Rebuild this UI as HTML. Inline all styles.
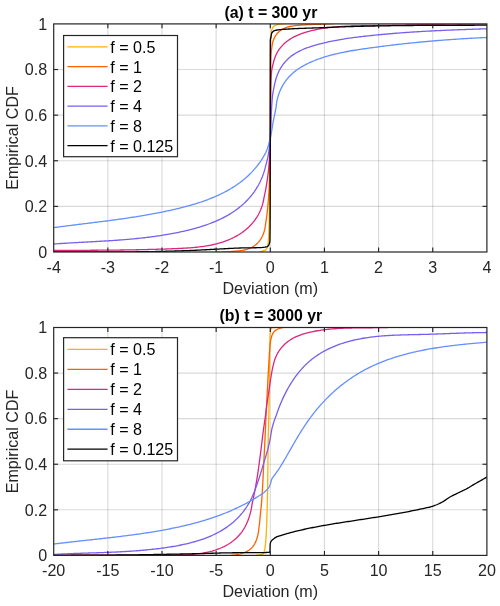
<!DOCTYPE html>
<html><head><meta charset="utf-8"><title>Empirical CDF</title>
<style>html,body{margin:0;padding:0;background:#fff}svg{display:block}</style></head>
<body>
<svg width="500" height="606" viewBox="0 0 500 606" font-family="'Liberation Sans', Arial, Helvetica, sans-serif">
<rect width="500" height="606" fill="#fff"/>
<line x1="107.85" y1="23.9" x2="107.85" y2="252.0" stroke="#262626" stroke-opacity="0.17" stroke-width="1.1"/>
<line x1="162.00" y1="23.9" x2="162.00" y2="252.0" stroke="#262626" stroke-opacity="0.17" stroke-width="1.1"/>
<line x1="216.15" y1="23.9" x2="216.15" y2="252.0" stroke="#262626" stroke-opacity="0.17" stroke-width="1.1"/>
<line x1="270.30" y1="23.9" x2="270.30" y2="252.0" stroke="#262626" stroke-opacity="0.17" stroke-width="1.1"/>
<line x1="324.45" y1="23.9" x2="324.45" y2="252.0" stroke="#262626" stroke-opacity="0.17" stroke-width="1.1"/>
<line x1="378.60" y1="23.9" x2="378.60" y2="252.0" stroke="#262626" stroke-opacity="0.17" stroke-width="1.1"/>
<line x1="432.75" y1="23.9" x2="432.75" y2="252.0" stroke="#262626" stroke-opacity="0.17" stroke-width="1.1"/>
<line x1="53.7" y1="206.38" x2="486.9" y2="206.38" stroke="#262626" stroke-opacity="0.17" stroke-width="1.1"/>
<line x1="53.7" y1="160.76" x2="486.9" y2="160.76" stroke="#262626" stroke-opacity="0.17" stroke-width="1.1"/>
<line x1="53.7" y1="115.14" x2="486.9" y2="115.14" stroke="#262626" stroke-opacity="0.17" stroke-width="1.1"/>
<line x1="53.7" y1="69.52" x2="486.9" y2="69.52" stroke="#262626" stroke-opacity="0.17" stroke-width="1.1"/>
<clipPath id="c0"><rect x="53.7" y="23.9" width="433.2" height="228.1"/></clipPath>
<g clip-path="url(#c0)" fill="none" stroke-width="1.3" stroke-linejoin="round">
<polyline points="53.60,253.20 55.15,253.20 56.69,253.20 58.24,253.20 59.78,253.20 61.33,253.20 62.87,253.20 64.41,253.20 65.95,253.20 67.49,253.20 69.03,253.20 70.56,253.20 72.10,253.20 73.64,253.20 75.17,253.20 76.70,253.20 78.23,253.20 79.77,253.20 81.30,253.20 82.82,253.20 84.35,253.20 85.88,253.20 87.40,253.20 88.93,253.20 90.45,253.20 91.98,253.20 93.50,253.20 95.02,253.20 96.54,253.20 98.06,253.20 99.58,253.20 101.10,253.20 102.61,253.20 104.13,253.20 105.64,253.20 107.16,253.20 108.67,253.20 110.18,253.20 111.69,253.20 113.20,253.20 114.71,253.20 116.22,253.20 117.73,253.20 119.24,253.20 120.74,253.20 122.25,253.20 123.75,253.20 125.25,253.20 126.76,253.20 128.26,253.20 129.76,253.20 131.26,253.20 132.76,253.20 134.26,253.20 135.76,253.20 137.25,253.20 138.75,253.20 140.24,253.20 141.74,253.20 143.23,253.20 144.73,253.20 146.22,253.20 147.71,253.20 149.20,253.20 150.69,253.20 152.18,253.20 153.67,253.20 155.16,253.20 156.65,253.20 158.13,253.20 159.62,253.20 161.10,253.20 162.59,253.20 164.07,253.20 165.56,253.20 167.04,253.20 168.52,253.20 170.00,253.20 171.48,253.20 172.96,253.20 174.44,253.20 175.92,253.20 177.40,253.20 178.88,253.20 180.35,253.20 181.83,253.20 183.31,253.20 184.78,253.20 186.26,253.20 187.73,253.20 189.20,253.20 190.68,253.20 192.15,253.20 193.62,253.20 195.09,253.20 196.56,253.20 198.03,253.20 199.50,253.20 200.97,253.20 202.44,253.20 203.91,253.20 205.37,253.20 206.84,253.20 208.31,253.20 209.77,253.20 211.24,253.20 212.70,253.20 214.17,253.20 215.63,253.20 217.10,253.20 218.56,253.20 220.02,253.20 221.48,253.20 222.94,253.20 224.41,253.20 225.87,253.20 227.33,253.20 228.79,253.20 230.25,253.20 231.71,253.20 233.16,253.20 234.62,253.20 236.08,253.20 237.54,253.20 239.00,253.20 240.45,253.20 241.91,253.20 243.36,253.20 244.82,253.20 246.28,253.20 247.73,253.20 249.18,253.20 250.64,253.20 252.09,253.20 253.55,253.20 255.00,253.20 256.33,253.07 257.66,252.73 258.98,252.27 260.29,251.77 261.60,251.30 263.11,250.87 264.60,250.42 265.80,249.80 266.46,249.06 267.01,248.05 267.40,247.00 267.75,245.58 268.02,244.09 268.20,242.60 268.33,241.24 268.43,239.87 268.52,238.50 268.60,237.12 268.67,235.75 268.74,234.37 268.80,233.00 268.86,231.67 268.91,230.33 268.96,229.00 269.01,227.67 269.05,226.33 269.09,225.00 269.13,223.67 269.17,222.33 269.20,221.00 269.23,219.59 269.26,218.18 269.29,216.77 269.32,215.35 269.35,213.94 269.37,212.53 269.39,211.12 269.42,209.71 269.44,208.29 269.46,206.88 269.48,205.47 269.50,204.06 269.52,202.65 269.54,201.24 269.56,199.82 269.58,198.41 269.60,197.00 269.62,195.54 269.64,194.08 269.66,192.62 269.68,191.15 269.70,189.69 269.72,188.23 269.73,186.77 269.75,185.31 269.77,183.85 269.79,182.39 269.81,180.92 269.83,179.46 269.84,178.00 269.86,176.54 269.88,175.08 269.90,173.62 269.91,172.15 269.93,170.69 269.95,169.23 269.96,167.77 269.98,166.31 269.99,164.85 270.01,163.39 270.02,161.92 270.04,160.46 270.05,159.00 270.07,157.54 270.08,156.08 270.09,154.62 270.11,153.15 270.12,151.69 270.13,150.23 270.14,148.77 270.15,147.31 270.16,145.85 270.17,144.38 270.18,142.92 270.19,141.46 270.20,140.00 270.21,138.52 270.22,137.04 270.22,135.56 270.23,134.07 270.24,132.59 270.24,131.11 270.25,129.63 270.26,128.15 270.26,126.67 270.27,125.18 270.27,123.70 270.28,122.22 270.28,120.74 270.28,119.26 270.29,117.78 270.29,116.30 270.30,114.81 270.30,113.33 270.30,111.85 270.31,110.37 270.31,108.89 270.31,107.41 270.32,105.92 270.32,104.44 270.32,102.96 270.33,101.48 270.33,100.00 270.33,98.52 270.34,97.03 270.34,95.55 270.34,94.07 270.35,92.59 270.35,91.11 270.36,89.63 270.36,88.15 270.37,86.66 270.37,85.18 270.38,83.70 270.38,82.22 270.39,80.74 270.39,79.26 270.40,77.78 270.40,76.29 270.41,74.81 270.42,73.33 270.43,71.85 270.43,70.37 270.44,68.89 270.45,67.41 270.46,65.92 270.47,64.44 270.48,62.96 270.49,61.48 270.50,60.00 270.51,58.57 270.53,57.13 270.54,55.70 270.56,54.26 270.58,52.82 270.60,51.38 270.63,49.94 270.66,48.50 270.69,47.07 270.73,45.63 270.77,44.19 270.82,42.76 270.87,41.33 270.93,39.90 270.99,38.47 271.06,37.05 271.13,35.63 271.21,34.21 271.30,32.80 271.43,31.56 271.67,30.31 272.00,29.11 272.40,28.00 273.08,26.96 274.00,26.10 275.14,25.47 276.40,25.00 277.58,24.63 278.79,24.31 280.00,24.10 281.41,23.94 282.82,23.78 284.24,23.63 285.66,23.50 287.09,23.37 288.52,23.26 289.95,23.15 291.39,23.06 292.83,22.99 294.26,22.92 295.70,22.87 297.14,22.83 298.57,22.81 300.00,22.80 301.49,22.80 302.99,22.80 304.48,22.80 305.98,22.80 307.47,22.80 308.96,22.80 310.46,22.80 311.95,22.80 313.45,22.80 314.94,22.80 316.44,22.80 317.93,22.80 319.42,22.80 320.92,22.80 322.41,22.80 323.91,22.80 325.40,22.80 326.90,22.80 328.39,22.80 329.88,22.80 331.38,22.80 332.87,22.80 334.37,22.80 335.86,22.80 337.36,22.80 338.85,22.80 340.35,22.80 341.84,22.80 343.34,22.80 344.83,22.80 346.32,22.80 347.82,22.80 349.31,22.80 350.81,22.80 352.30,22.80 353.80,22.80 355.29,22.80 356.79,22.80 358.28,22.80 359.78,22.80 361.27,22.80 362.77,22.80 364.26,22.80 365.76,22.80 367.25,22.80 368.75,22.80 370.24,22.80 371.74,22.80 373.23,22.80 374.73,22.80 376.23,22.80 377.72,22.80 379.22,22.80 380.71,22.80 382.21,22.80 383.70,22.80 385.20,22.80 386.69,22.80 388.19,22.80 389.68,22.80 391.18,22.80 392.68,22.80 394.17,22.80 395.67,22.80 397.16,22.80 398.66,22.80 400.16,22.80 401.65,22.80 403.15,22.80 404.64,22.80 406.14,22.80 407.64,22.80 409.13,22.80 410.63,22.80 412.12,22.80 413.62,22.80 415.12,22.80 416.61,22.80 418.11,22.80 419.61,22.80 421.10,22.80 422.60,22.80 424.10,22.80 425.59,22.80 427.09,22.80 428.59,22.80 430.08,22.80 431.58,22.80 433.08,22.80 434.57,22.80 436.07,22.80 437.57,22.80 439.07,22.80 440.56,22.80 442.06,22.80 443.56,22.80 445.05,22.80 446.55,22.80 448.05,22.80 449.55,22.80 451.04,22.80 452.54,22.80 454.04,22.80 455.54,22.80 457.03,22.80 458.53,22.80 460.03,22.80 461.53,22.80 463.03,22.80 464.52,22.80 466.02,22.80 467.52,22.80 469.02,22.80 470.52,22.80 472.01,22.80 473.51,22.80 475.01,22.80 476.51,22.80 478.01,22.80 479.51,22.80 481.01,22.80 482.50,22.80 484.00,22.80 485.50,22.80 487.00,22.80" stroke="#FFB000"/>
<polyline points="53.60,253.20 55.10,253.20 56.59,253.20 58.09,253.20 59.59,253.20 61.08,253.20 62.58,253.20 64.08,253.20 65.57,253.20 67.07,253.20 68.57,253.20 70.06,253.20 71.56,253.20 73.05,253.20 74.55,253.20 76.05,253.20 77.54,253.20 79.04,253.20 80.53,253.20 82.03,253.20 83.52,253.20 85.02,253.20 86.51,253.20 88.01,253.20 89.50,253.20 91.00,253.20 92.49,253.20 93.99,253.20 95.48,253.20 96.98,253.20 98.47,253.20 99.97,253.20 101.46,253.20 102.96,253.20 104.45,253.20 105.95,253.20 107.44,253.20 108.94,253.20 110.43,253.20 111.92,253.20 113.42,253.20 114.91,253.20 116.41,253.20 117.90,253.20 119.40,253.20 120.89,253.20 122.38,253.20 123.88,253.20 125.37,253.20 126.86,253.20 128.36,253.20 129.85,253.20 131.34,253.20 132.84,253.20 134.33,253.20 135.83,253.20 137.32,253.20 138.81,253.20 140.30,253.20 141.80,253.20 143.29,253.20 144.78,253.20 146.28,253.20 147.77,253.20 149.26,253.20 150.75,253.20 152.28,253.22 153.81,253.24 155.33,253.26 156.84,253.28 158.35,253.29 159.85,253.30 161.36,253.31 162.85,253.32 164.35,253.33 165.84,253.33 167.33,253.34 168.82,253.34 170.30,253.33 171.78,253.33 173.26,253.33 174.74,253.32 176.21,253.31 177.68,253.30 179.16,253.28 180.63,253.27 182.10,253.25 183.57,253.23 185.04,253.21 186.51,253.18 187.98,253.16 189.45,253.13 190.93,253.10 192.40,253.07 193.87,253.04 195.35,253.00 196.83,252.96 198.30,252.92 199.78,252.88 201.22,252.84 202.66,252.79 204.10,252.75 205.55,252.70 207.00,252.65 208.45,252.60 209.91,252.54 211.37,252.49 212.83,252.43 214.30,252.37 215.78,252.31 217.26,252.24 218.74,252.18 220.23,252.11 221.72,252.04 223.21,251.97 224.71,251.89 226.21,251.81 227.66,251.73 229.11,251.64 230.55,251.54 231.99,251.44 233.42,251.33 234.84,251.21 236.26,251.08 237.66,250.94 239.05,250.78 240.42,250.61 241.66,250.44 242.90,250.24 244.12,250.01 245.32,249.75 246.49,249.45 247.64,249.12 248.80,248.72 249.98,248.26 251.14,247.74 252.27,247.15 253.35,246.51 254.36,245.83 255.38,245.08 256.40,244.22 257.40,243.29 258.32,242.33 259.15,241.35 259.91,240.37 260.63,239.33 261.32,238.21 261.96,237.05 262.55,235.84 263.07,234.61 263.54,233.37 263.99,232.03 264.38,230.66 264.72,229.26 265.03,227.84 265.29,226.40 265.50,224.94 265.69,223.48 265.83,222.07 266.05,220.75 266.26,219.42 266.46,218.09 266.64,216.75 266.82,215.41 266.99,214.08 267.15,212.74 267.30,211.40 267.44,210.07 267.58,208.74 267.72,207.41 267.84,206.07 267.96,204.74 268.08,203.40 268.19,202.07 268.30,200.73 268.40,199.40 268.51,197.96 268.61,196.52 268.72,195.08 268.82,193.64 268.91,192.20 269.00,190.76 269.09,189.32 269.17,187.88 269.24,186.44 269.30,185.00 269.36,183.53 269.41,182.06 269.46,180.59 269.51,179.12 269.56,177.65 269.60,176.18 269.64,174.71 269.68,173.24 269.72,171.77 269.76,170.30 269.79,168.83 269.83,167.35 269.86,165.88 269.90,164.41 269.93,162.94 269.97,161.47 270.00,160.00 270.03,158.57 270.07,157.14 270.10,155.71 270.14,154.29 270.17,152.86 270.21,151.43 270.24,150.00 270.27,148.57 270.30,147.14 270.33,145.71 270.35,144.29 270.37,142.86 270.39,141.43 270.40,140.00 270.41,138.54 270.42,137.07 270.43,135.61 270.43,134.15 270.44,132.68 270.45,131.22 270.45,129.76 270.46,128.29 270.46,126.83 270.47,125.37 270.47,123.90 270.48,122.44 270.48,120.98 270.48,119.51 270.49,118.05 270.49,116.59 270.49,115.12 270.50,113.66 270.50,112.20 270.50,110.73 270.50,109.27 270.51,107.81 270.51,106.34 270.51,104.88 270.52,103.41 270.52,101.95 270.52,100.49 270.52,99.02 270.53,97.56 270.53,96.10 270.54,94.63 270.54,93.17 270.55,91.71 270.55,90.24 270.56,88.78 270.56,87.32 270.57,85.85 270.58,84.39 270.58,82.93 270.59,81.46 270.60,80.00 270.61,78.59 270.62,77.18 270.63,75.76 270.64,74.35 270.66,72.94 270.67,71.52 270.69,70.11 270.71,68.70 270.73,67.29 270.76,65.87 270.78,64.46 270.81,63.05 270.84,61.64 270.88,60.23 270.92,58.82 270.96,57.41 271.00,56.00 271.06,54.71 271.14,53.42 271.25,52.13 271.39,50.84 271.54,49.55 271.72,48.27 271.90,47.00 272.07,45.54 272.32,44.09 272.64,42.66 273.03,41.28 273.45,40.07 273.92,38.89 274.45,37.74 275.16,36.42 275.96,35.15 276.82,33.98 277.70,32.94 278.42,32.18 279.22,31.44 280.04,30.76 281.05,30.02 282.14,29.34 283.25,28.74 284.30,28.25 285.39,27.81 286.51,27.41 287.67,27.06 288.83,26.75 289.99,26.48 291.17,26.24 292.36,26.03 293.57,25.85 294.78,25.68 296.17,25.52 297.55,25.37 298.94,25.24 300.33,25.13 301.72,25.02 303.12,24.92 304.51,24.84 305.92,24.76 307.34,24.69 308.75,24.63 310.17,24.57 311.58,24.52 313.00,24.47 314.44,24.42 315.87,24.38 317.31,24.33 318.75,24.29 320.18,24.25 321.61,24.20 323.04,24.15 324.47,24.09 325.95,24.03 327.42,23.96 328.89,23.88 330.36,23.79 331.83,23.69 333.29,23.58 334.75,23.46 336.21,23.32 337.66,23.16 339.11,22.99 340.58,22.92 342.06,22.85 343.53,22.81 345.00,22.80 346.49,22.80 347.99,22.80 349.48,22.80 350.97,22.80 352.46,22.80 353.96,22.80 355.45,22.80 356.94,22.80 358.44,22.80 359.93,22.80 361.42,22.80 362.92,22.80 364.41,22.80 365.90,22.80 367.40,22.80 368.89,22.80 370.38,22.80 371.88,22.80 373.37,22.80 374.86,22.80 376.36,22.80 377.85,22.80 379.34,22.80 380.84,22.80 382.33,22.80 383.82,22.80 385.32,22.80 386.81,22.80 388.31,22.80 389.80,22.80 391.29,22.80 392.79,22.80 394.28,22.80 395.77,22.80 397.27,22.80 398.76,22.80 400.26,22.80 401.75,22.80 403.25,22.80 404.74,22.80 406.23,22.80 407.73,22.80 409.22,22.80 410.72,22.80 412.21,22.80 413.71,22.80 415.20,22.80 416.69,22.80 418.19,22.80 419.68,22.80 421.18,22.80 422.67,22.80 424.17,22.80 425.66,22.80 427.16,22.80 428.65,22.80 430.15,22.80 431.64,22.80 433.14,22.80 434.63,22.80 436.13,22.80 437.62,22.80 439.12,22.80 440.61,22.80 442.11,22.80 443.60,22.80 445.10,22.80 446.60,22.80 448.09,22.80 449.59,22.80 451.08,22.80 452.58,22.80 454.07,22.80 455.57,22.80 457.07,22.80 458.56,22.80 460.06,22.80 461.56,22.80 463.05,22.80 464.55,22.80 466.04,22.80 467.54,22.80 469.04,22.80 470.53,22.80 472.03,22.80 473.53,22.80 475.02,22.80 476.52,22.80 478.02,22.80 479.51,22.80 481.01,22.80 482.51,22.80 484.01,22.80 485.50,22.80 487.00,22.80" stroke="#FE6100"/>
<polyline points="53.60,250.50 55.10,250.49 56.62,250.48 58.14,250.47 59.66,250.46 61.18,250.45 62.69,250.44 64.20,250.43 65.72,250.42 67.22,250.41 68.73,250.40 70.24,250.39 71.74,250.38 73.25,250.37 74.75,250.37 76.25,250.36 77.75,250.35 79.24,250.34 80.74,250.33 82.24,250.32 83.73,250.31 85.22,250.31 86.71,250.30 88.20,250.29 89.69,250.28 91.18,250.27 92.67,250.26 94.16,250.25 95.64,250.24 97.13,250.23 98.61,250.22 100.10,250.21 101.56,250.20 103.01,250.19 104.47,250.18 105.93,250.16 107.38,250.15 108.84,250.14 110.30,250.13 111.75,250.11 113.21,250.10 114.66,250.08 116.12,250.07 117.58,250.05 119.03,250.03 120.49,250.01 121.94,250.00 123.40,249.98 124.86,249.96 126.32,249.94 127.77,249.91 129.23,249.89 130.69,249.87 132.15,249.84 133.61,249.82 135.07,249.79 136.53,249.76 137.99,249.74 139.45,249.71 140.92,249.68 142.38,249.65 143.84,249.61 145.31,249.58 146.78,249.55 148.24,249.51 149.71,249.47 151.20,249.43 152.68,249.39 154.17,249.35 155.66,249.31 157.15,249.27 158.64,249.22 160.13,249.18 161.62,249.13 163.12,249.08 164.62,249.03 166.12,248.98 167.62,248.92 169.13,248.87 170.63,248.81 172.14,248.75 173.65,248.69 175.16,248.63 176.68,248.56 178.19,248.50 179.71,248.42 181.22,248.35 182.74,248.27 184.25,248.18 185.77,248.09 187.28,248.00 188.79,247.89 190.30,247.78 191.81,247.66 193.32,247.53 194.82,247.39 196.32,247.24 197.82,247.08 199.32,246.91 200.81,246.72 202.30,246.53 203.79,246.32 205.27,246.09 206.74,245.86 208.21,245.60 209.66,245.33 211.11,245.05 212.56,244.75 213.99,244.43 215.41,244.09 216.73,243.76 218.04,243.42 219.35,243.05 220.66,242.67 221.95,242.27 223.22,241.85 224.55,241.40 225.87,240.92 227.18,240.42 228.49,239.90 229.78,239.35 231.06,238.78 232.37,238.16 233.68,237.52 234.97,236.85 236.25,236.15 237.51,235.43 238.74,234.69 239.89,233.96 241.04,233.20 242.17,232.42 243.28,231.61 244.38,230.78 245.45,229.92 246.49,229.05 247.52,228.15 248.54,227.21 249.54,226.24 250.51,225.25 251.45,224.24 252.26,223.34 253.04,222.41 253.81,221.46 254.55,220.50 255.36,219.38 256.15,218.23 256.91,217.06 257.63,215.88 258.30,214.70 258.95,213.49 259.57,212.25 260.16,210.98 260.71,209.68 261.23,208.36 261.72,207.03 262.14,205.75 262.53,204.45 262.89,203.12 263.22,201.77 263.51,200.40 263.77,199.01 264.00,197.59 264.30,196.27 264.60,194.93 264.89,193.59 265.16,192.24 265.43,190.90 265.69,189.55 265.94,188.20 266.17,186.85 266.40,185.50 266.63,184.06 266.86,182.61 267.08,181.16 267.30,179.71 267.51,178.26 267.71,176.81 267.90,175.36 268.07,173.91 268.24,172.45 268.40,171.00 268.55,169.57 268.69,168.13 268.82,166.70 268.95,165.26 269.08,163.83 269.20,162.39 269.31,160.95 269.42,159.51 269.52,158.08 269.61,156.64 269.70,155.20 269.78,153.82 269.87,152.44 269.95,151.06 270.03,149.68 270.11,148.29 270.18,146.91 270.24,145.53 270.30,144.15 270.34,142.76 270.38,141.38 270.40,140.00 270.41,138.52 270.43,137.04 270.44,135.56 270.45,134.08 270.46,132.60 270.47,131.11 270.47,129.63 270.48,128.15 270.49,126.67 270.49,125.19 270.50,123.71 270.50,122.23 270.51,120.74 270.51,119.26 270.51,117.78 270.52,116.30 270.52,114.82 270.53,113.33 270.53,111.85 270.54,110.37 270.54,108.89 270.55,107.41 270.56,105.93 270.57,104.44 270.58,102.96 270.59,101.48 270.60,100.00 270.61,98.55 270.63,97.09 270.65,95.64 270.67,94.18 270.70,92.73 270.72,91.27 270.75,89.82 270.79,88.36 270.82,86.91 270.86,85.45 270.90,84.00 270.94,82.58 270.99,81.15 271.05,79.72 271.12,78.30 271.19,76.87 271.27,75.45 271.37,74.03 271.48,72.61 271.60,71.20 271.76,69.89 271.98,68.58 272.25,67.28 272.56,65.98 272.88,64.69 273.20,63.40 273.54,62.08 273.90,60.77 274.28,59.46 274.75,58.07 275.25,56.72 275.79,55.43 276.33,54.26 276.90,53.13 277.51,52.03 278.15,50.96 278.82,49.93 279.52,48.94 280.32,47.88 281.17,46.84 282.05,45.84 282.95,44.90 283.77,44.09 284.63,43.30 285.53,42.52 286.45,41.77 287.38,41.05 288.27,40.40 289.19,39.76 290.13,39.15 291.08,38.56 292.06,37.99 293.06,37.43 294.07,36.89 295.09,36.37 296.21,35.84 297.35,35.33 298.50,34.83 299.67,34.35 300.84,33.90 302.00,33.48 303.16,33.07 304.33,32.68 305.52,32.31 306.70,31.95 307.89,31.61 309.08,31.29 310.28,30.97 311.48,30.67 312.68,30.39 314.12,30.06 315.57,29.75 317.02,29.45 318.48,29.17 319.87,28.91 321.27,28.67 322.67,28.45 324.07,28.23 325.48,28.03 326.89,27.84 328.30,27.66 329.71,27.49 331.16,27.32 332.62,27.17 334.08,27.03 335.54,26.90 337.00,26.78 338.47,26.67 339.93,26.56 341.40,26.47 342.85,26.38 344.31,26.30 345.77,26.23 347.23,26.16 348.68,26.10 350.14,26.05 351.60,26.00 353.06,25.95 354.52,25.91 355.98,25.88 357.38,25.84 358.78,25.81 360.18,25.79 361.58,25.76 362.98,25.74 364.38,25.72 365.78,25.70 367.18,25.68 368.57,25.66 369.97,25.64 371.37,25.62 372.76,25.60 374.15,25.58 375.61,25.56 377.06,25.53 378.51,25.51 379.96,25.49 381.40,25.46 382.85,25.44 384.30,25.41 385.74,25.38 387.19,25.36 388.63,25.33 390.08,25.31 391.52,25.28 392.96,25.25 394.40,25.22 395.84,25.20 397.28,25.17 398.72,25.14 400.16,25.11 401.59,25.08 403.01,25.05 404.43,25.03 405.85,25.00 407.27,24.97 408.69,24.94 410.11,24.91 411.53,24.88 412.95,24.85 414.37,24.82 415.79,24.80 417.21,24.77 418.63,24.74 420.05,24.71 421.47,24.68 422.89,24.65 424.31,24.62 425.73,24.60 427.15,24.57 428.57,24.54 429.99,24.51 431.44,24.48 432.89,24.46 434.34,24.43 435.80,24.40 437.25,24.38 438.70,24.35 440.15,24.32 441.61,24.30 443.06,24.27 444.52,24.25 445.97,24.22 447.43,24.20 448.88,24.18 450.34,24.15 451.80,24.13 453.25,24.11 454.71,24.09 456.17,24.07 457.63,24.05 459.09,24.03 460.55,24.01 462.01,23.99 463.47,23.97 464.94,23.95 466.40,23.94 467.87,23.92 469.33,23.91 470.80,23.89 472.27,23.88 473.73,23.87 475.20,23.86 476.67,23.85 478.15,23.84 479.62,23.83 481.09,23.82 482.57,23.82 484.04,23.81 485.52,23.80 487.00,23.80" stroke="#DC267F"/>
<polyline points="53.60,244.00 55.07,243.93 56.55,243.82 58.03,243.72 59.51,243.62 60.99,243.52 62.47,243.43 63.95,243.33 65.42,243.24 66.90,243.15 68.37,243.06 69.85,242.97 71.32,242.89 72.79,242.80 74.26,242.72 75.73,242.63 77.20,242.55 78.67,242.47 80.13,242.39 81.59,242.31 83.06,242.23 84.52,242.15 85.98,242.07 87.44,241.99 88.90,241.91 90.36,241.83 91.82,241.75 93.27,241.67 94.73,241.59 96.18,241.51 97.64,241.43 99.09,241.34 100.55,241.26 102.00,241.17 103.46,241.09 104.91,241.00 106.36,240.91 107.81,240.82 109.28,240.73 110.75,240.63 112.23,240.54 113.70,240.44 115.17,240.34 116.64,240.23 118.11,240.13 119.58,240.02 121.06,239.91 122.53,239.80 124.00,239.68 125.47,239.56 126.94,239.44 128.41,239.31 129.88,239.18 131.30,239.06 132.72,238.93 134.14,238.79 135.55,238.66 136.97,238.51 138.39,238.37 139.81,238.22 141.23,238.07 142.65,237.91 144.07,237.75 145.49,237.59 146.91,237.42 148.33,237.25 149.75,237.07 151.08,236.90 152.41,236.72 153.74,236.54 155.08,236.36 156.41,236.17 157.75,235.98 159.08,235.78 160.41,235.58 161.75,235.37 163.17,235.15 164.58,234.92 166.01,234.68 167.43,234.44 168.85,234.19 170.28,233.94 171.70,233.67 173.13,233.41 174.56,233.13 175.99,232.86 177.41,232.57 178.84,232.28 180.27,231.98 181.70,231.67 183.12,231.36 184.55,231.03 185.97,230.71 187.39,230.37 188.80,230.02 190.21,229.67 191.66,229.30 193.10,228.92 194.54,228.53 195.98,228.13 197.42,227.71 198.85,227.29 200.28,226.86 201.71,226.41 203.13,225.95 204.54,225.49 205.95,225.01 207.35,224.51 208.74,224.01 210.13,223.49 211.51,222.96 212.87,222.42 214.23,221.87 215.58,221.30 216.91,220.72 218.15,220.17 219.39,219.60 220.61,219.01 221.84,218.42 223.05,217.81 224.25,217.18 225.45,216.55 226.63,215.90 227.79,215.24 228.94,214.57 230.08,213.88 231.19,213.19 232.31,212.48 233.41,211.75 234.51,211.01 235.59,210.25 236.66,209.47 237.72,208.68 238.76,207.88 239.78,207.06 240.80,206.23 241.80,205.37 242.80,204.50 243.78,203.61 244.74,202.71 245.69,201.79 246.70,200.77 247.70,199.74 248.67,198.68 249.63,197.60 250.56,196.51 251.47,195.40 252.34,194.30 253.20,193.16 254.04,192.01 254.86,190.83 255.66,189.64 256.44,188.42 257.18,187.20 257.90,185.97 258.59,184.74 259.25,183.49 259.90,182.21 260.52,180.91 261.13,179.58 261.70,178.25 262.26,176.89 262.77,175.56 263.26,174.21 263.72,172.84 264.17,171.45 264.59,170.04 264.98,168.61 265.36,167.16 265.70,165.69 266.06,164.39 266.42,163.09 266.78,161.78 267.12,160.46 267.44,159.15 267.74,157.82 268.00,156.50 268.24,155.19 268.46,153.87 268.68,152.56 268.88,151.23 269.08,149.91 269.26,148.58 269.42,147.26 269.57,145.93 269.70,144.60 269.83,143.14 269.95,141.67 270.06,140.21 270.17,138.74 270.27,137.27 270.36,135.81 270.44,134.34 270.52,132.87 270.60,131.40 270.67,129.95 270.74,128.50 270.79,127.05 270.85,125.60 270.90,124.15 270.95,122.70 271.01,121.25 271.06,119.80 271.11,118.35 271.17,116.90 271.23,115.45 271.30,114.00 271.37,112.57 271.44,111.13 271.51,109.69 271.59,108.26 271.67,106.82 271.75,105.38 271.84,103.95 271.93,102.52 272.04,101.08 272.15,99.65 272.27,98.23 272.40,96.80 272.55,95.42 272.74,94.05 272.96,92.67 273.20,91.30 273.46,89.93 273.73,88.56 274.00,87.20 274.29,85.82 274.59,84.43 274.91,83.05 275.25,81.68 275.60,80.21 276.00,78.77 276.43,77.36 276.92,75.95 277.46,74.55 278.03,73.17 278.65,71.83 279.30,70.52 279.99,69.24 280.62,68.15 281.29,67.07 281.99,66.01 282.71,64.97 283.46,63.97 284.22,63.00 285.10,61.95 286.01,60.93 286.96,59.93 287.94,58.97 288.93,58.06 289.91,57.21 290.92,56.39 291.96,55.60 293.02,54.85 294.09,54.13 295.18,53.44 296.23,52.81 297.31,52.20 298.42,51.61 299.53,51.05 300.66,50.50 301.80,49.98 302.94,49.49 304.19,48.97 305.46,48.47 306.76,47.98 308.06,47.51 309.36,47.06 310.66,46.63 311.92,46.23 313.19,45.84 314.46,45.45 315.75,45.08 317.04,44.71 318.33,44.35 319.73,43.98 321.13,43.61 322.54,43.26 323.95,42.91 325.30,42.59 326.65,42.28 328.01,41.97 329.37,41.68 330.74,41.39 332.11,41.11 333.48,40.83 334.86,40.57 336.24,40.31 337.61,40.05 339.01,39.80 340.41,39.56 341.82,39.33 343.23,39.09 344.64,38.87 346.05,38.65 347.46,38.44 348.88,38.23 350.29,38.03 351.71,37.83 353.13,37.64 354.54,37.45 355.96,37.27 357.38,37.09 358.81,36.91 360.23,36.74 361.66,36.57 363.09,36.41 364.51,36.25 365.94,36.09 367.36,35.93 368.79,35.78 370.21,35.63 371.64,35.48 373.06,35.33 374.48,35.19 375.90,35.05 377.31,34.91 378.73,34.77 380.16,34.63 381.59,34.50 383.02,34.37 384.45,34.24 385.88,34.11 387.30,33.98 388.73,33.86 390.15,33.73 391.58,33.61 393.00,33.50 394.42,33.38 395.84,33.27 397.28,33.15 398.71,33.04 400.14,32.93 401.57,32.82 403.00,32.72 404.43,32.61 405.86,32.51 407.29,32.41 408.72,32.31 410.15,32.21 411.64,32.12 413.12,32.02 414.60,31.92 416.08,31.83 417.56,31.74 419.04,31.65 420.52,31.56 422.00,31.47 423.48,31.38 424.96,31.30 426.45,31.22 427.93,31.14 429.41,31.06 430.89,30.98 432.37,30.90 433.81,30.83 435.25,30.76 436.69,30.68 438.13,30.61 439.57,30.55 441.01,30.48 442.46,30.41 443.90,30.35 445.34,30.28 446.79,30.22 448.23,30.16 449.68,30.10 451.13,30.04 452.57,29.98 454.02,29.92 455.47,29.86 456.92,29.81 458.37,29.75 459.82,29.70 461.24,29.64 462.66,29.59 464.08,29.54 465.51,29.49 466.93,29.44 468.36,29.39 469.78,29.34 471.21,29.30 472.64,29.25 474.07,29.20 475.50,29.15 476.93,29.11 478.37,29.06 479.80,29.02 481.24,28.97 482.68,28.93 484.12,28.89 485.56,28.84 487.00,28.80" stroke="#785EF0"/>
<polyline points="53.60,227.60 55.07,227.45 56.54,227.25 58.01,227.05 59.48,226.86 60.95,226.67 62.42,226.48 63.88,226.29 65.35,226.10 66.82,225.91 68.28,225.72 69.75,225.54 71.22,225.35 72.68,225.17 74.15,224.99 75.61,224.80 77.07,224.62 78.54,224.44 80.00,224.26 81.46,224.08 82.92,223.90 84.38,223.72 85.84,223.54 87.30,223.36 88.76,223.18 90.22,223.00 91.68,222.82 93.14,222.64 94.60,222.45 96.06,222.27 97.52,222.09 98.98,221.91 100.43,221.72 101.89,221.54 103.35,221.35 104.80,221.16 106.26,220.98 107.72,220.79 109.19,220.59 110.67,220.40 112.15,220.20 113.63,220.00 115.10,219.80 116.58,219.60 118.06,219.40 119.53,219.19 121.01,218.99 122.49,218.78 123.96,218.57 125.44,218.35 126.92,218.14 128.39,217.92 129.87,217.70 131.29,217.48 132.72,217.26 134.15,217.04 135.57,216.81 137.00,216.59 138.43,216.36 139.85,216.13 141.28,215.89 142.71,215.65 144.13,215.41 145.56,215.16 146.98,214.91 148.41,214.66 149.83,214.41 151.18,214.16 152.52,213.92 153.87,213.67 155.21,213.41 156.56,213.15 157.90,212.89 159.25,212.63 160.60,212.36 161.94,212.09 163.37,211.80 164.79,211.50 166.21,211.20 167.63,210.89 169.06,210.58 170.48,210.27 171.91,209.95 173.33,209.63 174.76,209.30 176.18,208.97 177.60,208.63 179.03,208.28 180.45,207.93 181.87,207.58 183.29,207.21 184.70,206.85 186.11,206.47 187.52,206.09 188.93,205.70 190.33,205.31 191.76,204.89 193.19,204.48 194.61,204.05 196.03,203.61 197.45,203.17 198.86,202.71 200.28,202.25 201.68,201.78 203.08,201.29 204.48,200.80 205.87,200.30 207.26,199.79 208.63,199.26 210.01,198.73 211.37,198.19 212.73,197.63 214.08,197.07 215.42,196.49 216.75,195.91 218.10,195.30 219.44,194.67 220.78,194.03 222.12,193.38 223.44,192.71 224.75,192.04 226.05,191.34 227.34,190.64 228.62,189.92 229.87,189.20 230.99,188.53 232.10,187.86 233.21,187.17 234.31,186.46 235.41,185.74 236.49,185.01 237.57,184.26 238.63,183.50 239.69,182.74 240.76,181.93 241.83,181.11 242.88,180.27 243.93,179.42 244.95,178.55 245.96,177.68 246.95,176.80 247.93,175.90 248.90,174.99 249.86,174.05 250.81,173.10 251.75,172.14 252.66,171.16 253.56,170.18 254.45,169.18 255.32,168.16 256.18,167.12 257.03,166.06 257.86,164.99 258.68,163.91 259.48,162.81 260.33,161.60 261.17,160.36 261.99,159.09 262.80,157.81 263.58,156.50 264.35,155.18 265.09,153.85 265.81,152.50 266.34,151.23 266.85,149.94 267.33,148.63 267.78,147.31 268.21,145.97 268.62,144.64 269.00,143.30 269.38,141.90 269.74,140.49 270.08,139.07 270.41,137.65 270.71,136.23 271.00,134.80 271.26,133.41 271.51,132.01 271.74,130.61 271.96,129.21 272.18,127.80 272.40,126.40 272.62,125.00 272.85,123.60 273.10,122.20 273.35,120.87 273.62,119.54 273.89,118.21 274.17,116.88 274.45,115.56 274.73,114.23 275.00,112.90 275.28,111.46 275.56,110.02 275.83,108.58 276.11,107.14 276.22,105.67 276.39,104.20 276.60,102.73 276.86,101.27 277.16,99.81 277.51,98.35 277.90,96.90 278.34,95.46 278.81,94.03 279.33,92.62 279.88,91.23 280.44,89.93 281.05,88.63 281.68,87.36 282.35,86.10 283.05,84.88 283.77,83.69 284.54,82.52 285.34,81.36 286.17,80.23 287.03,79.12 287.92,78.06 288.83,77.04 289.82,75.98 290.86,74.94 291.93,73.94 293.02,72.97 294.14,72.03 295.27,71.13 296.34,70.32 297.44,69.53 298.57,68.76 299.71,68.01 300.87,67.29 302.03,66.59 303.21,65.92 304.45,65.24 305.71,64.57 306.99,63.92 308.29,63.29 309.60,62.68 310.91,62.09 312.17,61.54 313.44,61.00 314.72,60.48 316.01,59.98 317.30,59.48 318.60,59.00 319.96,58.52 321.33,58.05 322.71,57.59 324.09,57.15 325.42,56.74 326.75,56.34 328.09,55.95 329.43,55.57 330.78,55.20 332.14,54.85 333.50,54.50 334.86,54.16 336.23,53.84 337.60,53.52 338.99,53.20 340.39,52.90 341.79,52.60 343.19,52.31 344.60,52.03 346.01,51.76 347.43,51.49 348.84,51.24 350.26,50.98 351.67,50.74 353.09,50.50 354.51,50.26 355.93,50.03 357.35,49.81 358.77,49.59 360.19,49.37 361.61,49.16 363.03,48.95 364.45,48.74 365.88,48.54 367.30,48.34 368.72,48.14 370.15,47.94 371.57,47.75 372.99,47.56 374.41,47.36 375.82,47.17 377.24,46.99 378.66,46.80 380.09,46.61 381.52,46.43 382.95,46.25 384.38,46.07 385.81,45.89 387.24,45.71 388.67,45.53 390.10,45.36 391.53,45.19 392.95,45.02 394.38,44.85 395.80,44.68 397.24,44.52 398.67,44.35 400.10,44.19 401.54,44.03 402.97,43.87 404.40,43.71 405.83,43.56 407.26,43.41 408.70,43.25 410.13,43.10 411.52,42.96 412.91,42.82 414.30,42.68 415.69,42.54 417.08,42.40 418.47,42.26 419.87,42.13 421.26,42.00 422.65,41.86 424.04,41.73 425.43,41.61 426.82,41.48 428.21,41.36 429.60,41.23 431.00,41.11 432.39,40.99 433.83,40.87 435.27,40.75 436.71,40.63 438.15,40.51 439.59,40.40 441.04,40.28 442.48,40.17 443.92,40.06 445.37,39.95 446.81,39.84 448.26,39.74 449.70,39.63 451.15,39.53 452.60,39.43 454.05,39.33 455.50,39.23 456.95,39.13 458.40,39.04 459.85,38.95 461.27,38.86 462.69,38.77 464.11,38.68 465.53,38.60 466.96,38.51 468.38,38.43 469.81,38.35 471.23,38.27 472.66,38.20 474.09,38.12 475.52,38.04 476.95,37.97 478.38,37.90 479.82,37.83 481.25,37.76 482.69,37.69 484.12,37.63 485.56,37.56 487.00,37.50" stroke="#648FFF"/>
<polyline points="53.60,252.00 55.08,252.00 56.55,252.00 58.03,252.00 59.50,252.00 60.98,252.00 62.45,252.00 63.93,252.00 65.40,252.00 66.88,252.00 68.36,251.99 69.83,251.99 71.31,251.99 72.78,251.99 74.26,251.99 75.73,251.99 77.21,251.99 78.68,251.98 80.16,251.98 81.64,251.98 83.11,251.98 84.59,251.98 86.06,251.98 87.54,251.97 89.01,251.97 90.49,251.97 91.96,251.97 93.44,251.96 94.92,251.96 96.39,251.96 97.87,251.95 99.34,251.95 100.82,251.95 102.29,251.95 103.77,251.94 105.24,251.94 106.72,251.93 108.20,251.93 109.67,251.93 111.15,251.92 112.62,251.92 114.10,251.92 115.57,251.91 117.05,251.91 118.52,251.90 120.00,251.90 121.43,251.90 122.86,251.89 124.29,251.88 125.71,251.87 127.14,251.86 128.57,251.85 130.00,251.84 131.43,251.83 132.86,251.81 134.29,251.80 135.71,251.79 137.14,251.77 138.57,251.75 140.00,251.74 141.43,251.72 142.86,251.70 144.29,251.68 145.71,251.66 147.14,251.64 148.57,251.62 150.00,251.60 151.48,251.58 152.96,251.55 154.45,251.53 155.93,251.50 157.41,251.47 158.89,251.44 160.37,251.41 161.85,251.37 163.34,251.34 164.82,251.30 166.30,251.26 167.78,251.22 169.26,251.18 170.74,251.14 172.23,251.09 173.71,251.05 175.19,251.00 176.67,250.96 178.15,250.91 179.63,250.86 181.11,250.81 182.60,250.76 184.08,250.71 185.56,250.66 187.04,250.61 188.52,250.55 190.00,250.50 191.44,250.45 192.89,250.39 194.33,250.32 195.78,250.26 197.22,250.19 198.67,250.12 200.11,250.05 201.56,249.97 203.00,249.89 204.45,249.82 205.89,249.74 207.33,249.66 208.78,249.58 210.22,249.50 211.67,249.42 213.11,249.35 214.56,249.27 216.00,249.20 217.41,249.13 218.82,249.05 220.23,248.97 221.65,248.90 223.06,248.82 224.47,248.73 225.88,248.65 227.29,248.57 228.70,248.50 230.12,248.42 231.53,248.35 232.94,248.28 234.35,248.21 235.76,248.15 237.18,248.09 238.59,248.04 240.00,248.00 241.43,247.96 242.86,247.93 244.29,247.91 245.72,247.88 247.15,247.86 248.58,247.84 250.01,247.82 251.44,247.80 252.86,247.78 254.29,247.76 255.72,247.73 257.15,247.69 258.57,247.65 260.00,247.60 261.21,247.54 262.43,247.46 263.65,247.34 264.84,247.19 266.00,247.00 267.13,246.62 268.10,246.00 268.75,245.19 269.20,244.20 269.53,243.04 269.79,241.82 269.90,240.60 269.93,239.17 269.95,237.73 269.98,236.29 270.00,234.85 270.02,233.41 270.04,231.96 270.05,230.52 270.07,229.07 270.09,227.62 270.10,226.17 270.11,224.72 270.12,223.27 270.13,221.81 270.14,220.36 270.15,218.91 270.16,217.45 270.16,215.99 270.17,214.54 270.18,213.08 270.18,211.63 270.18,210.17 270.19,208.72 270.19,207.26 270.19,205.81 270.19,204.35 270.20,202.90 270.20,201.45 270.20,200.00 270.20,198.51 270.20,197.01 270.20,195.52 270.21,194.03 270.21,192.54 270.21,191.04 270.21,189.55 270.21,188.06 270.21,186.57 270.21,185.07 270.21,183.58 270.22,182.09 270.22,180.60 270.22,179.10 270.22,177.61 270.22,176.12 270.22,174.63 270.22,173.13 270.22,171.64 270.22,170.15 270.22,168.66 270.22,167.16 270.22,165.67 270.23,164.18 270.23,162.69 270.23,161.19 270.23,159.70 270.23,158.21 270.23,156.72 270.23,155.22 270.23,153.73 270.23,152.24 270.23,150.75 270.23,149.25 270.23,147.76 270.23,146.27 270.23,144.78 270.23,143.28 270.23,141.79 270.23,140.30 270.23,138.81 270.23,137.31 270.23,135.82 270.24,134.33 270.24,132.84 270.24,131.34 270.24,129.85 270.24,128.36 270.24,126.87 270.24,125.37 270.24,123.88 270.24,122.39 270.24,120.90 270.24,119.40 270.24,117.91 270.24,116.42 270.24,114.93 270.24,113.43 270.24,111.94 270.24,110.45 270.24,108.96 270.25,107.46 270.25,105.97 270.25,104.48 270.25,102.99 270.25,101.49 270.25,100.00 270.25,98.54 270.25,97.07 270.25,95.60 270.25,94.14 270.25,92.67 270.25,91.20 270.25,89.73 270.26,88.26 270.26,86.79 270.26,85.32 270.26,83.85 270.26,82.38 270.26,80.90 270.26,79.43 270.26,77.96 270.26,76.49 270.26,75.02 270.26,73.55 270.26,72.08 270.26,70.61 270.26,69.14 270.26,67.67 270.26,66.20 270.27,64.73 270.27,63.27 270.27,61.80 270.27,60.34 270.27,58.87 270.27,57.41 270.27,55.95 270.27,54.49 270.28,53.03 270.28,51.58 270.28,50.12 270.28,48.67 270.29,47.22 270.29,45.77 270.29,44.33 270.29,42.88 270.30,41.44 270.30,40.00 270.44,39.00 270.73,38.00 271.00,37.00 271.19,35.77 271.35,34.54 271.60,33.40 272.33,32.16 273.40,31.20 274.48,30.67 275.73,30.26 277.00,30.00 278.30,29.82 279.62,29.67 280.95,29.54 282.28,29.42 283.63,29.33 284.97,29.24 286.32,29.16 287.66,29.08 289.00,29.00 290.33,28.92 291.66,28.84 293.00,28.77 294.33,28.70 295.66,28.64 297.00,28.57 298.33,28.51 299.67,28.46 301.00,28.40 302.46,28.34 303.92,28.29 305.39,28.23 306.85,28.18 308.31,28.13 309.77,28.08 311.24,28.04 312.70,27.99 314.16,27.95 315.62,27.90 317.09,27.86 318.55,27.81 320.01,27.76 321.48,27.71 322.94,27.66 324.40,27.60 325.76,27.54 327.12,27.49 328.48,27.43 329.84,27.36 331.20,27.30 332.56,27.24 333.92,27.17 335.28,27.11 336.64,27.05 338.00,27.00 339.38,26.95 340.77,26.90 342.15,26.84 343.54,26.79 344.92,26.74 346.31,26.70 347.69,26.65 349.08,26.60 350.46,26.56 351.85,26.52 353.23,26.48 354.62,26.44 356.00,26.40 357.41,26.36 358.82,26.33 360.23,26.29 361.65,26.26 363.06,26.23 364.47,26.20 365.88,26.17 367.29,26.14 368.71,26.11 370.12,26.08 371.53,26.05 372.94,26.02 374.35,26.00 375.76,25.97 377.18,25.95 378.59,25.92 380.00,25.90 381.43,25.88 382.86,25.85 384.29,25.83 385.71,25.81 387.14,25.78 388.57,25.76 390.00,25.74 391.43,25.72 392.86,25.70 394.29,25.68 395.71,25.66 397.14,25.64 398.57,25.62 400.00,25.60 401.43,25.58 402.86,25.57 404.29,25.55 405.71,25.54 407.14,25.52 408.57,25.51 410.00,25.50 411.48,25.49 412.96,25.48 414.44,25.47 415.93,25.46 417.41,25.45 418.89,25.44 420.37,25.43 421.85,25.42 423.33,25.41 424.81,25.41 426.30,25.40 427.78,25.39 429.26,25.38 430.74,25.38 432.22,25.37 433.70,25.36 435.19,25.36 436.67,25.35 438.15,25.34 439.63,25.34 441.11,25.33 442.59,25.33 444.07,25.32 445.56,25.32 447.04,25.31 448.52,25.31 450.00,25.30 451.48,25.29 452.96,25.29 454.44,25.28 455.92,25.28 457.40,25.27 458.88,25.27 460.36,25.27 461.84,25.26 463.32,25.26 464.80,25.25 466.28,25.25 467.76,25.24 469.24,25.24 470.72,25.24 472.20,25.23 473.68,25.23 475.16,25.22 476.64,25.22 478.12,25.22 479.60,25.21 481.08,25.21 482.56,25.21 484.04,25.21 485.52,25.20 487.00,25.20" stroke="#000000"/>
</g>
<text x="53.70" y="273.00" font-size="16.1" fill="#262626" text-anchor="middle">-4</text>
<line x1="107.85" y1="252.0" x2="107.85" y2="247.6" stroke="#262626" stroke-width="1.15"/>
<line x1="107.85" y1="23.9" x2="107.85" y2="28.299999999999997" stroke="#262626" stroke-width="1.15"/>
<text x="107.85" y="273.00" font-size="16.1" fill="#262626" text-anchor="middle">-3</text>
<line x1="162.00" y1="252.0" x2="162.00" y2="247.6" stroke="#262626" stroke-width="1.15"/>
<line x1="162.00" y1="23.9" x2="162.00" y2="28.299999999999997" stroke="#262626" stroke-width="1.15"/>
<text x="162.00" y="273.00" font-size="16.1" fill="#262626" text-anchor="middle">-2</text>
<line x1="216.15" y1="252.0" x2="216.15" y2="247.6" stroke="#262626" stroke-width="1.15"/>
<line x1="216.15" y1="23.9" x2="216.15" y2="28.299999999999997" stroke="#262626" stroke-width="1.15"/>
<text x="216.15" y="273.00" font-size="16.1" fill="#262626" text-anchor="middle">-1</text>
<line x1="270.30" y1="252.0" x2="270.30" y2="247.6" stroke="#262626" stroke-width="1.15"/>
<line x1="270.30" y1="23.9" x2="270.30" y2="28.299999999999997" stroke="#262626" stroke-width="1.15"/>
<text x="270.30" y="273.00" font-size="16.1" fill="#262626" text-anchor="middle">0</text>
<line x1="324.45" y1="252.0" x2="324.45" y2="247.6" stroke="#262626" stroke-width="1.15"/>
<line x1="324.45" y1="23.9" x2="324.45" y2="28.299999999999997" stroke="#262626" stroke-width="1.15"/>
<text x="324.45" y="273.00" font-size="16.1" fill="#262626" text-anchor="middle">1</text>
<line x1="378.60" y1="252.0" x2="378.60" y2="247.6" stroke="#262626" stroke-width="1.15"/>
<line x1="378.60" y1="23.9" x2="378.60" y2="28.299999999999997" stroke="#262626" stroke-width="1.15"/>
<text x="378.60" y="273.00" font-size="16.1" fill="#262626" text-anchor="middle">2</text>
<line x1="432.75" y1="252.0" x2="432.75" y2="247.6" stroke="#262626" stroke-width="1.15"/>
<line x1="432.75" y1="23.9" x2="432.75" y2="28.299999999999997" stroke="#262626" stroke-width="1.15"/>
<text x="432.75" y="273.00" font-size="16.1" fill="#262626" text-anchor="middle">3</text>
<text x="486.90" y="273.00" font-size="16.1" fill="#262626" text-anchor="middle">4</text>
<text x="47.10" y="257.80" font-size="16.1" fill="#262626" text-anchor="end">0</text>
<line x1="53.7" y1="206.38" x2="58.1" y2="206.38" stroke="#262626" stroke-width="1.15"/>
<line x1="486.9" y1="206.38" x2="482.5" y2="206.38" stroke="#262626" stroke-width="1.15"/>
<text x="47.10" y="212.18" font-size="16.1" fill="#262626" text-anchor="end">0.2</text>
<line x1="53.7" y1="160.76" x2="58.1" y2="160.76" stroke="#262626" stroke-width="1.15"/>
<line x1="486.9" y1="160.76" x2="482.5" y2="160.76" stroke="#262626" stroke-width="1.15"/>
<text x="47.10" y="166.56" font-size="16.1" fill="#262626" text-anchor="end">0.4</text>
<line x1="53.7" y1="115.14" x2="58.1" y2="115.14" stroke="#262626" stroke-width="1.15"/>
<line x1="486.9" y1="115.14" x2="482.5" y2="115.14" stroke="#262626" stroke-width="1.15"/>
<text x="47.10" y="120.94" font-size="16.1" fill="#262626" text-anchor="end">0.6</text>
<line x1="53.7" y1="69.52" x2="58.1" y2="69.52" stroke="#262626" stroke-width="1.15"/>
<line x1="486.9" y1="69.52" x2="482.5" y2="69.52" stroke="#262626" stroke-width="1.15"/>
<text x="47.10" y="75.32" font-size="16.1" fill="#262626" text-anchor="end">0.8</text>
<text x="47.10" y="29.70" font-size="16.1" fill="#262626" text-anchor="end">1</text>
<rect x="53.7" y="23.9" width="433.2" height="228.1" fill="none" stroke="#262626" stroke-width="1.2"/>
<text x="270.90" y="17.50" font-size="15.85" font-weight="bold" fill="#000" text-anchor="middle">(a) t = 300 yr</text>
<text x="270.30" y="293.90" font-size="16.1" fill="#262626" text-anchor="middle">Deviation (m)</text>
<text transform="translate(17.5,137.95) rotate(-90)" font-size="16.1" fill="#262626" text-anchor="middle">Empirical CDF</text>
<rect x="63.6" y="35.5" width="113.9" height="121.19999999999999" fill="#fff" stroke="#262626" stroke-width="1.2"/>
<line x1="67.4" y1="46.80" x2="107.6" y2="46.80" stroke="#FFB000" stroke-width="1.3"/>
<text x="110.2" y="52.80" font-size="16.1" fill="#000">f = 0.5</text>
<line x1="67.4" y1="66.56" x2="107.6" y2="66.56" stroke="#FE6100" stroke-width="1.3"/>
<text x="110.2" y="72.56" font-size="16.1" fill="#000">f = 1</text>
<line x1="67.4" y1="86.32" x2="107.6" y2="86.32" stroke="#DC267F" stroke-width="1.3"/>
<text x="110.2" y="92.32" font-size="16.1" fill="#000">f = 2</text>
<line x1="67.4" y1="106.08" x2="107.6" y2="106.08" stroke="#785EF0" stroke-width="1.3"/>
<text x="110.2" y="112.08" font-size="16.1" fill="#000">f = 4</text>
<line x1="67.4" y1="125.84" x2="107.6" y2="125.84" stroke="#648FFF" stroke-width="1.3"/>
<text x="110.2" y="131.84" font-size="16.1" fill="#000">f = 8</text>
<line x1="67.4" y1="145.60" x2="107.6" y2="145.60" stroke="#000000" stroke-width="1.3"/>
<text x="110.2" y="151.60" font-size="16.1" fill="#000">f = 0.125</text>
<line x1="107.85" y1="327.5" x2="107.85" y2="555.4" stroke="#262626" stroke-opacity="0.17" stroke-width="1.1"/>
<line x1="162.00" y1="327.5" x2="162.00" y2="555.4" stroke="#262626" stroke-opacity="0.17" stroke-width="1.1"/>
<line x1="216.15" y1="327.5" x2="216.15" y2="555.4" stroke="#262626" stroke-opacity="0.17" stroke-width="1.1"/>
<line x1="270.30" y1="327.5" x2="270.30" y2="555.4" stroke="#262626" stroke-opacity="0.17" stroke-width="1.1"/>
<line x1="324.45" y1="327.5" x2="324.45" y2="555.4" stroke="#262626" stroke-opacity="0.17" stroke-width="1.1"/>
<line x1="378.60" y1="327.5" x2="378.60" y2="555.4" stroke="#262626" stroke-opacity="0.17" stroke-width="1.1"/>
<line x1="432.75" y1="327.5" x2="432.75" y2="555.4" stroke="#262626" stroke-opacity="0.17" stroke-width="1.1"/>
<line x1="53.7" y1="509.82" x2="486.9" y2="509.82" stroke="#262626" stroke-opacity="0.17" stroke-width="1.1"/>
<line x1="53.7" y1="464.24" x2="486.9" y2="464.24" stroke="#262626" stroke-opacity="0.17" stroke-width="1.1"/>
<line x1="53.7" y1="418.66" x2="486.9" y2="418.66" stroke="#262626" stroke-opacity="0.17" stroke-width="1.1"/>
<line x1="53.7" y1="373.08" x2="486.9" y2="373.08" stroke="#262626" stroke-opacity="0.17" stroke-width="1.1"/>
<clipPath id="c1"><rect x="53.7" y="327.5" width="433.2" height="227.89999999999998"/></clipPath>
<g clip-path="url(#c1)" fill="none" stroke-width="1.3" stroke-linejoin="round">
<polyline points="53.60,556.60 55.12,556.60 56.65,556.60 58.17,556.60 59.69,556.60 61.21,556.60 62.73,556.60 64.26,556.60 65.78,556.60 67.30,556.60 68.81,556.60 70.33,556.60 71.85,556.60 73.37,556.60 74.89,556.60 76.40,556.60 77.92,556.60 79.44,556.60 80.95,556.60 82.47,556.60 83.98,556.60 85.50,556.60 87.01,556.60 88.52,556.60 90.04,556.60 91.55,556.60 93.06,556.60 94.57,556.60 96.08,556.60 97.60,556.60 99.11,556.60 100.62,556.60 102.13,556.60 103.64,556.60 105.14,556.60 106.65,556.60 108.16,556.60 109.67,556.60 111.18,556.60 112.68,556.60 114.19,556.60 115.69,556.60 117.20,556.60 118.71,556.60 120.21,556.60 121.72,556.60 123.22,556.60 124.72,556.60 126.23,556.60 127.73,556.60 129.23,556.60 130.73,556.60 132.24,556.60 133.74,556.60 135.24,556.60 136.74,556.60 138.24,556.60 139.74,556.60 141.24,556.60 142.74,556.60 144.24,556.60 145.74,556.60 147.24,556.60 148.74,556.60 150.23,556.60 151.73,556.60 153.23,556.60 154.73,556.60 156.22,556.60 157.72,556.60 159.21,556.60 160.71,556.60 162.21,556.60 163.70,556.60 165.20,556.60 166.69,556.60 168.18,556.60 169.68,556.60 171.17,556.60 172.67,556.60 174.16,556.60 175.65,556.60 177.14,556.60 178.64,556.60 180.13,556.60 181.62,556.60 183.11,556.60 184.60,556.60 186.09,556.60 187.58,556.60 189.08,556.60 190.57,556.60 192.06,556.60 193.55,556.60 195.03,556.60 196.52,556.60 198.01,556.60 199.50,556.60 200.99,556.60 202.48,556.60 203.97,556.60 205.45,556.60 206.94,556.60 208.43,556.60 209.92,556.60 211.40,556.60 212.89,556.60 214.38,556.60 215.86,556.60 217.35,556.60 218.84,556.60 220.32,556.60 221.81,556.60 223.29,556.60 224.78,556.60 226.26,556.60 227.75,556.60 229.23,556.60 230.72,556.60 232.20,556.60 233.69,556.60 235.17,556.60 236.65,556.60 238.14,556.60 239.62,556.60 241.10,556.60 242.59,556.60 244.07,556.60 245.55,556.60 247.04,556.60 248.52,556.60 250.00,556.60 251.34,556.53 252.68,556.33 254.01,556.06 255.34,555.73 256.67,555.40 258.00,555.10 259.30,554.87 260.65,554.65 261.88,554.38 262.80,554.00 263.57,553.03 264.19,551.53 264.60,550.00 264.86,548.68 265.08,547.32 265.27,545.95 265.43,544.57 265.57,543.17 265.69,541.78 265.80,540.40 265.91,538.96 266.01,537.53 266.10,536.09 266.19,534.65 266.27,533.21 266.34,531.77 266.41,530.32 266.48,528.88 266.54,527.44 266.60,526.00 266.66,524.62 266.71,523.23 266.76,521.85 266.82,520.46 266.86,519.08 266.91,517.69 266.96,516.31 267.00,514.92 267.04,513.54 267.08,512.15 267.12,510.77 267.16,509.38 267.20,508.00 267.24,506.62 267.27,505.23 267.31,503.85 267.34,502.46 267.38,501.08 267.41,499.69 267.44,498.31 267.47,496.92 267.50,495.54 267.53,494.15 267.55,492.77 267.58,491.38 267.60,490.00 267.62,488.53 267.65,487.06 267.67,485.59 267.69,484.12 267.71,482.65 267.73,481.18 267.74,479.71 267.76,478.24 267.78,476.77 267.79,475.29 267.81,473.82 267.82,472.35 267.84,470.88 267.85,469.41 267.87,467.94 267.88,466.47 267.90,465.00 267.91,463.53 267.93,462.06 267.94,460.59 267.96,459.12 267.97,457.65 267.99,456.18 268.00,454.71 268.02,453.23 268.04,451.76 268.05,450.29 268.07,448.82 268.09,447.35 268.11,445.88 268.13,444.41 268.15,442.94 268.18,441.47 268.20,440.00 268.23,438.52 268.26,437.04 268.29,435.56 268.32,434.08 268.36,432.60 268.40,431.13 268.44,429.65 268.48,428.17 268.52,426.69 268.56,425.21 268.61,423.73 268.65,422.25 268.69,420.77 268.73,419.29 268.77,417.82 268.80,416.34 268.84,414.86 268.87,413.38 268.90,411.90 268.93,410.40 268.95,408.91 268.98,407.41 269.00,405.91 269.03,404.42 269.05,402.92 269.07,401.43 269.10,399.93 269.12,398.43 269.14,396.94 269.16,395.44 269.18,393.94 269.20,392.45 269.22,390.95 269.24,389.45 269.26,387.96 269.28,386.46 269.30,384.96 269.32,383.47 269.33,381.97 269.35,380.48 269.37,378.98 269.39,377.48 269.41,375.99 269.44,374.49 269.46,372.99 269.48,371.50 269.50,370.00 269.52,368.55 269.54,367.09 269.56,365.64 269.58,364.18 269.59,362.73 269.61,361.27 269.62,359.81 269.64,358.36 269.66,356.90 269.67,355.45 269.69,353.99 269.71,352.54 269.73,351.08 269.75,349.63 269.77,348.17 269.80,346.72 269.82,345.27 269.85,343.81 269.89,342.36 269.92,340.91 269.96,339.45 270.00,338.00 270.04,336.65 270.10,335.28 270.18,333.91 270.28,332.56 270.42,331.25 270.60,330.00 271.12,328.59 272.00,327.70 273.14,327.56 274.57,327.49 276.00,327.40 277.34,327.23 278.67,327.00 280.00,326.76 281.33,326.53 282.66,326.36 284.00,326.30 285.48,326.30 286.97,326.30 288.45,326.30 289.93,326.30 291.42,326.30 292.90,326.30 294.39,326.30 295.87,326.30 297.35,326.30 298.84,326.30 300.32,326.30 301.81,326.30 303.29,326.30 304.78,326.30 306.26,326.30 307.75,326.30 309.23,326.30 310.72,326.30 312.20,326.30 313.69,326.30 315.17,326.30 316.66,326.30 318.14,326.30 319.63,326.30 321.11,326.30 322.60,326.30 324.09,326.30 325.57,326.30 327.06,326.30 328.54,326.30 330.03,326.30 331.52,326.30 333.00,326.30 334.49,326.30 335.98,326.30 337.46,326.30 338.95,326.30 340.44,326.30 341.93,326.30 343.41,326.30 344.90,326.30 346.39,326.30 347.88,326.30 349.36,326.30 350.85,326.30 352.34,326.30 353.83,326.30 355.32,326.30 356.81,326.30 358.29,326.30 359.78,326.30 361.27,326.30 362.76,326.30 364.25,326.30 365.74,326.30 367.23,326.30 368.72,326.30 370.21,326.30 371.70,326.30 373.19,326.30 374.68,326.30 376.17,326.30 377.66,326.30 379.15,326.30 380.64,326.30 382.13,326.30 383.63,326.30 385.12,326.30 386.61,326.30 388.10,326.30 389.59,326.30 391.09,326.30 392.58,326.30 394.07,326.30 395.56,326.30 397.06,326.30 398.55,326.30 400.04,326.30 401.54,326.30 403.03,326.30 404.52,326.30 406.02,326.30 407.51,326.30 409.00,326.30 410.50,326.30 411.99,326.30 413.49,326.30 414.98,326.30 416.48,326.30 417.97,326.30 419.47,326.30 420.97,326.30 422.46,326.30 423.96,326.30 425.45,326.30 426.95,326.30 428.45,326.30 429.95,326.30 431.44,326.30 432.94,326.30 434.44,326.30 435.94,326.30 437.43,326.30 438.93,326.30 440.43,326.30 441.93,326.30 443.43,326.30 444.93,326.30 446.43,326.30 447.93,326.30 449.43,326.30 450.93,326.30 452.43,326.30 453.93,326.30 455.43,326.30 456.93,326.30 458.43,326.30 459.93,326.30 461.43,326.30 462.94,326.30 464.44,326.30 465.94,326.30 467.44,326.30 468.95,326.30 470.45,326.30 471.95,326.30 473.46,326.30 474.96,326.30 476.46,326.30 477.97,326.30 479.47,326.30 480.98,326.30 482.48,326.30 483.99,326.30 485.49,326.30 487.00,326.30" stroke="#FFB000"/>
<polyline points="53.60,556.60 55.10,556.60 56.60,556.60 58.10,556.60 59.60,556.60 61.10,556.60 62.60,556.60 64.10,556.60 65.60,556.60 67.10,556.60 68.60,556.60 70.10,556.60 71.60,556.60 73.10,556.60 74.60,556.60 76.10,556.60 77.60,556.60 79.10,556.60 80.60,556.60 82.10,556.60 83.59,556.60 85.09,556.60 86.59,556.60 88.09,556.60 89.58,556.60 91.08,556.60 92.58,556.60 94.08,556.60 95.57,556.60 97.07,556.60 98.57,556.60 100.06,556.60 101.56,556.60 103.06,556.60 104.55,556.60 106.05,556.60 107.55,556.60 109.04,556.60 110.54,556.60 112.03,556.60 113.53,556.60 115.03,556.60 116.52,556.60 118.02,556.60 119.51,556.60 121.01,556.60 122.50,556.60 124.00,556.60 125.49,556.60 126.98,556.60 128.48,556.60 129.97,556.60 131.47,556.60 132.96,556.60 134.46,556.60 135.95,556.60 137.44,556.60 138.94,556.60 140.43,556.60 141.92,556.60 143.42,556.60 144.91,556.60 146.40,556.60 147.90,556.60 149.39,556.60 150.88,556.60 152.38,556.60 153.87,556.60 155.36,556.60 156.85,556.60 158.35,556.60 159.84,556.60 161.33,556.60 162.82,556.60 164.31,556.60 165.81,556.60 167.30,556.60 168.79,556.60 170.28,556.60 171.77,556.60 173.26,556.60 174.76,556.60 176.25,556.60 177.74,556.60 179.23,556.60 180.72,556.60 182.21,556.60 183.70,556.60 185.19,556.60 186.69,556.60 188.18,556.60 189.67,556.60 191.16,556.60 192.65,556.60 194.14,556.60 195.63,556.60 197.12,556.60 198.61,556.60 200.10,556.60 201.54,556.56 202.98,556.54 204.44,556.52 205.92,556.50 207.40,556.49 208.89,556.48 210.39,556.47 211.89,556.45 213.40,556.44 214.92,556.42 216.31,556.40 217.70,556.37 219.10,556.33 220.50,556.29 221.90,556.23 223.31,556.16 224.71,556.08 226.11,555.99 227.50,555.88 228.89,555.75 230.27,555.61 231.71,555.44 233.15,555.25 234.58,555.03 236.00,554.79 237.40,554.52 238.78,554.23 240.13,553.91 241.30,553.59 242.48,553.23 243.64,552.84 244.77,552.40 245.84,551.94 247.03,551.34 248.20,550.67 249.31,549.92 250.40,549.07 251.44,548.12 252.40,547.08 253.26,545.98 254.05,544.81 254.80,543.51 255.49,542.13 256.11,540.72 256.65,539.28 257.14,537.79 257.57,536.28 257.93,534.75 258.23,533.24 258.47,531.76 258.65,530.31 258.78,528.89 259.00,527.45 259.20,526.00 259.36,524.67 259.51,523.34 259.65,522.01 259.78,520.67 259.90,519.34 260.02,518.00 260.15,516.67 260.27,515.33 260.40,514.00 260.54,512.67 260.68,511.33 260.82,510.00 260.96,508.67 261.10,507.34 261.24,506.00 261.37,504.67 261.49,503.33 261.60,502.00 261.70,500.67 261.80,499.34 261.90,498.00 261.99,496.67 262.07,495.34 262.16,494.00 262.24,492.67 262.32,491.33 262.40,490.00 262.48,488.57 262.57,487.14 262.64,485.71 262.72,484.28 262.80,482.84 262.87,481.41 262.95,479.98 263.02,478.55 263.09,477.12 263.17,475.69 263.24,474.25 263.31,472.82 263.38,471.39 263.45,469.96 263.52,468.53 263.59,467.10 263.66,465.66 263.73,464.23 263.80,462.80 263.87,461.33 263.95,459.87 264.02,458.40 264.09,456.93 264.17,455.47 264.24,454.00 264.32,452.53 264.39,451.07 264.46,449.60 264.53,448.13 264.61,446.67 264.68,445.20 264.75,443.73 264.82,442.27 264.89,440.80 264.96,439.33 265.03,437.87 265.10,436.40 265.17,434.96 265.23,433.53 265.30,432.09 265.36,430.66 265.42,429.22 265.49,427.79 265.55,426.35 265.61,424.92 265.68,423.48 265.74,422.05 265.80,420.61 265.87,419.18 265.93,417.74 266.00,416.31 266.06,414.87 266.13,413.44 266.20,412.00 266.27,410.56 266.34,409.11 266.42,407.67 266.49,406.22 266.57,404.78 266.65,403.33 266.73,401.89 266.80,400.44 266.88,399.00 266.96,397.55 267.04,396.11 267.12,394.67 267.20,393.22 267.28,391.78 267.36,390.33 267.44,388.89 267.52,387.44 267.60,386.00 267.68,384.59 267.75,383.18 267.82,381.76 267.90,380.35 267.97,378.94 268.04,377.53 268.11,376.12 268.19,374.70 268.26,373.29 268.34,371.88 268.41,370.47 268.49,369.06 268.57,367.65 268.65,366.23 268.73,364.82 268.81,363.41 268.90,362.00 268.99,360.52 269.08,359.04 269.16,357.56 269.24,356.08 269.33,354.59 269.42,353.11 269.52,351.63 269.62,350.15 269.73,348.67 269.85,347.20 269.99,345.73 270.13,344.26 270.30,342.80 270.51,341.34 270.78,339.88 271.10,338.43 271.48,336.99 271.90,335.60 272.36,334.45 272.92,333.37 273.56,332.40 274.24,331.58 275.03,330.80 275.93,330.10 276.85,329.51 277.90,328.99 279.05,328.53 280.23,328.16 281.39,327.86 282.60,327.61 283.85,327.39 285.13,327.19 286.42,327.03 287.73,326.89 289.24,326.76 290.75,326.65 292.26,326.56 293.75,326.49 295.22,326.44 296.67,326.39 298.07,326.34 299.48,326.30 300.97,326.30 302.45,326.30 303.93,326.30 305.42,326.30 306.90,326.30 308.38,326.30 309.87,326.30 311.35,326.30 312.84,326.30 314.32,326.30 315.80,326.30 317.29,326.30 318.77,326.30 320.26,326.30 321.74,326.30 323.22,326.30 324.71,326.30 326.19,326.30 327.68,326.30 329.16,326.30 330.65,326.30 332.13,326.30 333.61,326.30 335.10,326.30 336.58,326.30 338.07,326.30 339.55,326.30 341.04,326.30 342.52,326.30 344.01,326.30 345.49,326.30 346.98,326.30 348.46,326.30 349.95,326.30 351.43,326.30 352.92,326.30 354.41,326.30 355.89,326.30 357.38,326.30 358.86,326.30 360.35,326.30 361.83,326.30 363.32,326.30 364.81,326.30 366.29,326.30 367.78,326.30 369.26,326.30 370.75,326.30 372.24,326.30 373.72,326.30 375.21,326.30 376.70,326.30 378.18,326.30 379.67,326.30 381.16,326.30 382.64,326.30 384.13,326.30 385.62,326.30 387.11,326.30 388.59,326.30 390.08,326.30 391.57,326.30 393.06,326.30 394.54,326.30 396.03,326.30 397.52,326.30 399.01,326.30 400.50,326.30 401.98,326.30 403.47,326.30 404.96,326.30 406.45,326.30 407.94,326.30 409.43,326.30 410.92,326.30 412.40,326.30 413.89,326.30 415.38,326.30 416.87,326.30 418.36,326.30 419.85,326.30 421.34,326.30 422.83,326.30 424.32,326.30 425.81,326.30 427.30,326.30 428.79,326.30 430.28,326.30 431.77,326.30 433.26,326.30 434.75,326.30 436.24,326.30 437.73,326.30 439.22,326.30 440.71,326.30 442.21,326.30 443.70,326.30 445.19,326.30 446.68,326.30 448.17,326.30 449.66,326.30 451.16,326.30 452.65,326.30 454.14,326.30 455.63,326.30 457.12,326.30 458.62,326.30 460.11,326.30 461.60,326.30 463.09,326.30 464.59,326.30 466.08,326.30 467.57,326.30 469.07,326.30 470.56,326.30 472.06,326.30 473.55,326.30 475.04,326.30 476.54,326.30 478.03,326.30 479.53,326.30 481.02,326.30 482.52,326.30 484.01,326.30 485.50,326.30 487.00,326.30" stroke="#FE6100"/>
<polyline points="53.60,555.20 55.08,555.20 56.57,555.20 58.05,555.20 59.53,555.20 61.02,555.20 62.50,555.20 63.98,555.20 65.47,555.20 66.95,555.20 68.43,555.20 69.91,555.19 71.40,555.19 72.88,555.19 74.36,555.19 75.85,555.19 77.33,555.19 78.81,555.19 80.30,555.18 81.78,555.18 83.26,555.18 84.75,555.18 86.23,555.18 87.71,555.17 89.20,555.17 90.68,555.17 92.16,555.17 93.64,555.16 95.13,555.16 96.61,555.16 98.09,555.16 99.58,555.15 101.06,555.15 102.54,555.15 104.03,555.14 105.51,555.14 106.99,555.14 108.48,555.13 109.96,555.13 111.44,555.13 112.92,555.12 114.41,555.12 115.89,555.12 117.37,555.11 118.86,555.11 120.34,555.10 121.82,555.10 123.31,555.09 124.79,555.09 126.27,555.09 127.75,555.08 129.24,555.08 130.72,555.07 132.20,555.07 133.69,555.06 135.17,555.06 136.65,555.05 138.14,555.05 139.62,555.04 141.10,555.03 142.59,555.03 144.07,555.02 145.55,555.02 147.03,555.01 148.52,555.01 150.00,555.00 151.43,554.93 152.86,554.88 154.31,554.83 155.76,554.80 157.21,554.77 158.68,554.75 160.15,554.74 161.62,554.73 163.10,554.73 164.59,554.73 166.07,554.74 167.57,554.75 169.06,554.76 170.56,554.76 172.06,554.77 173.57,554.78 175.07,554.78 176.58,554.78 178.09,554.78 179.59,554.76 181.10,554.75 182.61,554.72 184.11,554.69 185.62,554.64 187.12,554.59 188.62,554.52 190.12,554.44 191.47,554.36 192.83,554.27 194.18,554.16 195.54,554.04 196.89,553.91 198.24,553.76 199.58,553.59 200.92,553.41 202.25,553.22 203.69,552.98 205.13,552.73 206.56,552.45 207.99,552.15 209.41,551.82 210.83,551.46 212.24,551.09 213.64,550.68 215.02,550.25 216.22,549.85 217.40,549.43 218.59,548.98 219.76,548.51 220.92,548.02 222.07,547.51 223.25,546.96 224.42,546.38 225.57,545.77 226.70,545.15 227.81,544.50 229.01,543.76 230.21,542.98 231.38,542.17 232.52,541.33 233.62,540.47 234.67,539.60 235.70,538.69 236.72,537.74 237.70,536.76 238.65,535.77 239.55,534.75 240.35,533.79 241.14,532.80 241.91,531.77 242.64,530.72 243.35,529.64 244.02,528.56 244.66,527.46 245.28,526.33 245.87,525.18 246.44,524.01 246.98,522.83 247.50,521.63 247.97,520.45 248.42,519.25 248.85,518.04 249.25,516.82 249.63,515.59 249.99,514.35 250.36,512.96 250.70,511.55 251.02,510.14 251.30,508.71 251.56,507.28 251.79,505.84 252.00,504.40 252.32,503.00 252.62,501.61 252.92,500.21 253.22,498.80 253.51,497.40 253.80,496.00 254.05,494.80 254.29,493.60 254.54,492.40 254.77,491.20 255.00,490.00 255.25,488.62 255.50,487.24 255.75,485.86 255.99,484.48 256.23,483.09 256.47,481.71 256.70,480.33 256.93,478.94 257.15,477.56 257.37,476.17 257.59,474.79 257.80,473.40 258.01,471.99 258.22,470.58 258.42,469.16 258.62,467.75 258.82,466.34 259.01,464.92 259.20,463.51 259.39,462.09 259.58,460.68 259.77,459.26 259.95,457.85 260.13,456.43 260.32,455.02 260.50,453.60 260.68,452.19 260.86,450.77 261.03,449.36 261.20,447.95 261.37,446.53 261.54,445.12 261.71,443.71 261.88,442.29 262.05,440.88 262.22,439.46 262.39,438.05 262.56,436.64 262.74,435.22 262.92,433.81 263.10,432.40 263.29,430.98 263.48,429.57 263.68,428.15 263.89,426.74 264.09,425.32 264.30,423.91 264.50,422.49 264.71,421.08 264.91,419.66 265.12,418.25 265.32,416.83 265.51,415.42 265.70,414.00 265.89,412.53 266.07,411.07 266.25,409.60 266.42,408.13 266.61,406.67 266.80,405.20 267.00,403.74 267.21,402.29 267.42,400.83 267.64,399.38 267.86,397.92 268.08,396.47 268.31,395.02 268.53,393.56 268.76,392.11 268.98,390.65 269.20,389.20 269.41,387.74 269.62,386.29 269.83,384.83 270.03,383.37 270.24,381.91 270.44,380.46 270.66,379.00 270.88,377.55 271.10,376.10 271.35,374.65 271.60,373.20 271.85,371.84 272.11,370.48 272.38,369.12 272.67,367.76 272.97,366.41 273.29,365.07 273.63,363.57 274.01,362.11 274.46,360.58 274.98,359.08 275.54,357.62 276.15,356.20 276.80,354.82 277.49,353.51 278.14,352.37 278.83,351.26 279.55,350.17 280.31,349.12 281.10,348.10 281.90,347.13 282.72,346.21 283.68,345.21 284.68,344.23 285.73,343.28 286.81,342.37 287.91,341.52 289.02,340.71 290.08,340.01 291.17,339.32 292.29,338.66 293.43,338.03 294.59,337.44 295.75,336.88 296.99,336.33 298.25,335.80 299.54,335.29 300.84,334.82 302.16,334.36 303.50,333.94 304.83,333.54 306.20,333.15 307.58,332.79 308.98,332.44 310.38,332.12 311.80,331.81 313.21,331.52 314.63,331.24 315.99,330.99 317.34,330.76 318.70,330.53 320.07,330.32 321.44,330.12 322.81,329.93 324.18,329.76 325.67,329.58 327.16,329.41 328.65,329.25 330.14,329.11 331.64,328.97 333.14,328.85 334.64,328.74 335.98,328.64 337.33,328.55 338.68,328.47 340.03,328.40 341.38,328.33 342.73,328.27 344.09,328.21 345.44,328.16 346.79,328.12 348.26,328.07 349.73,328.03 351.20,327.99 352.67,327.96 354.13,327.93 355.60,327.91 357.07,327.89 358.54,327.87 360.01,327.85 361.51,327.83 363.02,327.82 364.52,327.80 366.02,327.79 367.53,327.77 369.03,327.76 370.52,327.74 372.02,327.73 373.52,327.71 375.01,327.69 376.50,327.67 377.99,327.65 379.48,327.62 380.97,327.60 382.46,327.57 383.94,327.55 385.43,327.52 386.91,327.49 388.39,327.46 389.88,327.43 391.36,327.40 392.84,327.37 394.31,327.34 395.79,327.30 397.27,327.27 398.74,327.24 400.22,327.20 401.64,327.17 403.06,327.14 404.48,327.10 405.90,327.07 407.32,327.03 408.74,327.00 410.16,326.96 411.58,326.93 413.00,326.90 414.41,326.86 415.83,326.83 417.25,326.79 418.67,326.76 420.08,326.73 421.50,326.69 422.91,326.66 424.33,326.63 425.75,326.59 427.16,326.56 428.58,326.53 429.99,326.50 431.44,326.47 432.89,326.44 434.34,326.41 435.79,326.38 437.24,326.36 438.69,326.33 440.14,326.31 441.59,326.28 443.04,326.26 444.49,326.24 445.94,326.21 447.39,326.19 448.85,326.18 450.30,326.16 451.76,326.14 453.21,326.13 454.67,326.12 456.12,326.10 457.58,326.09 459.04,326.09 460.50,326.08 461.96,326.07 463.43,326.07 464.89,326.07 466.35,326.07 467.82,326.07 469.29,326.08 470.75,326.08 472.22,326.09 473.69,326.10 475.17,326.12 476.64,326.13 478.12,326.15 479.59,326.17 481.07,326.19 482.55,326.21 484.03,326.24 485.52,326.27 487.00,326.30" stroke="#DC267F"/>
<polyline points="53.60,554.40 55.07,554.37 56.52,554.29 57.98,554.21 59.44,554.14 60.89,554.07 62.35,554.00 63.81,553.93 65.27,553.87 66.72,553.80 68.18,553.74 69.64,553.68 71.10,553.63 72.56,553.57 74.02,553.51 75.48,553.46 76.94,553.41 78.40,553.36 79.87,553.31 81.33,553.26 82.79,553.21 84.25,553.16 85.71,553.11 87.17,553.07 88.63,553.02 90.09,552.97 91.55,552.92 93.01,552.88 94.48,552.83 95.94,552.78 97.40,552.73 98.86,552.68 100.33,552.63 101.79,552.58 103.25,552.53 104.72,552.47 106.18,552.42 107.65,552.36 109.13,552.30 110.61,552.24 112.10,552.18 113.58,552.12 115.06,552.05 116.55,551.98 118.03,551.91 119.52,551.84 121.00,551.76 122.48,551.68 123.97,551.60 125.45,551.52 126.94,551.43 128.42,551.34 129.91,551.24 131.34,551.15 132.78,551.05 134.22,550.95 135.65,550.85 137.09,550.74 138.52,550.63 139.96,550.51 141.39,550.39 142.83,550.27 144.27,550.14 145.70,550.00 147.14,549.87 148.57,549.72 150.01,549.58 151.47,549.42 152.93,549.26 154.39,549.10 155.85,548.93 157.31,548.75 158.77,548.57 160.23,548.39 161.69,548.19 163.09,548.00 164.48,547.81 165.88,547.61 167.28,547.40 168.68,547.19 170.08,546.97 171.47,546.74 172.87,546.51 174.26,546.27 175.62,546.03 176.98,545.78 178.33,545.53 179.68,545.26 181.03,544.99 182.38,544.71 183.72,544.43 185.06,544.13 186.40,543.83 187.75,543.51 189.11,543.18 190.46,542.84 191.80,542.49 193.14,542.13 194.48,541.75 195.81,541.37 197.14,540.98 198.46,540.57 199.78,540.15 201.09,539.72 202.39,539.27 203.69,538.81 204.99,538.34 206.27,537.85 207.54,537.35 208.81,536.84 210.06,536.32 211.26,535.80 212.45,535.26 213.63,534.72 214.80,534.16 215.95,533.59 217.12,532.99 218.29,532.37 219.46,531.74 220.61,531.08 221.76,530.41 222.97,529.68 224.16,528.92 225.35,528.15 226.52,527.36 227.68,526.55 228.68,525.82 229.67,525.08 230.65,524.32 231.61,523.54 232.57,522.75 233.51,521.95 234.53,521.04 235.55,520.10 236.54,519.15 237.53,518.17 238.49,517.18 239.44,516.17 240.28,515.23 241.11,514.27 241.93,513.30 242.74,512.30 243.53,511.29 244.30,510.26 245.07,509.20 245.83,508.11 246.57,507.01 247.29,505.88 247.99,504.75 248.70,503.55 249.40,502.32 250.08,501.08 250.74,499.80 251.38,498.51 252.01,497.20 252.53,496.01 253.05,494.82 253.56,493.62 254.05,492.42 254.53,491.21 255.00,490.00 255.52,488.62 256.03,487.23 256.52,485.83 257.01,484.44 257.49,483.03 257.96,481.63 258.43,480.22 258.89,478.82 259.35,477.41 259.80,476.00 260.22,474.69 260.63,473.37 261.04,472.05 261.44,470.73 261.83,469.41 262.23,468.09 262.62,466.77 263.01,465.44 263.41,464.12 263.80,462.80 264.20,461.48 264.60,460.17 265.01,458.85 265.41,457.53 265.82,456.22 266.21,454.90 266.60,453.58 266.98,452.25 267.35,450.93 267.70,449.60 268.03,448.29 268.36,446.97 268.68,445.65 268.99,444.33 269.30,443.01 269.59,441.68 269.87,440.36 270.14,439.03 270.40,437.70 270.63,436.39 270.84,435.07 271.03,433.74 271.23,432.42 271.45,431.11 271.70,429.80 271.99,428.47 272.32,427.15 272.68,425.83 273.07,424.51 273.47,423.20 273.88,421.90 274.30,420.60 274.76,419.23 275.26,417.88 275.78,416.53 276.32,415.18 276.76,413.85 277.21,412.52 277.67,411.20 278.15,409.88 278.64,408.55 279.15,407.22 279.67,405.89 280.20,404.56 280.75,403.24 281.31,401.91 281.86,400.65 282.43,399.38 283.00,398.12 283.59,396.86 284.20,395.61 284.81,394.36 285.44,393.11 286.08,391.87 286.73,390.64 287.40,389.42 288.08,388.20 288.76,387.00 289.46,385.80 290.18,384.61 290.91,383.43 291.65,382.26 292.41,381.09 293.17,379.94 293.95,378.79 294.75,377.66 295.63,376.44 296.52,375.23 297.44,374.04 298.37,372.86 299.31,371.70 300.27,370.56 301.24,369.43 302.24,368.32 303.25,367.23 304.28,366.15 305.32,365.10 306.38,364.07 307.35,363.15 308.34,362.25 309.34,361.37 310.35,360.51 311.38,359.67 312.41,358.85 313.57,357.96 314.75,357.09 315.94,356.24 317.14,355.41 318.36,354.61 319.40,353.94 320.46,353.29 321.52,352.65 322.60,352.02 323.69,351.41 324.78,350.81 325.87,350.23 326.96,349.67 328.07,349.12 329.18,348.59 330.29,348.06 331.41,347.56 332.58,347.04 333.76,346.54 334.96,346.05 336.15,345.58 337.35,345.12 338.55,344.67 339.87,344.20 341.20,343.74 342.54,343.30 343.88,342.87 345.24,342.45 346.59,342.05 347.95,341.66 349.32,341.29 350.70,340.93 352.08,340.58 353.46,340.25 354.85,339.93 356.25,339.62 357.64,339.32 359.04,339.04 360.44,338.77 361.83,338.51 363.30,338.25 364.78,338.01 366.26,337.78 367.73,337.55 369.22,337.34 370.70,337.14 372.19,336.96 373.68,336.78 375.16,336.61 376.66,336.45 378.15,336.31 379.50,336.18 380.86,336.06 382.22,335.95 383.58,335.84 384.94,335.74 386.30,335.65 387.67,335.56 389.03,335.48 390.40,335.40 391.76,335.33 393.15,335.26 394.54,335.19 395.93,335.13 397.33,335.08 398.72,335.03 400.11,334.98 401.51,334.93 402.90,334.89 404.30,334.85 405.70,334.81 407.09,334.78 408.49,334.74 409.89,334.71 411.39,334.68 412.90,334.65 414.41,334.61 415.91,334.58 417.42,334.55 418.93,334.52 420.44,334.48 421.94,334.45 423.45,334.41 424.96,334.38 426.47,334.34 427.97,334.29 429.48,334.25 430.99,334.20 432.50,334.16 433.96,334.11 435.43,334.06 436.89,334.01 438.36,333.96 439.82,333.91 441.28,333.85 442.75,333.80 444.21,333.74 445.67,333.69 447.13,333.63 448.59,333.58 450.05,333.52 451.51,333.47 452.97,333.41 454.42,333.36 455.88,333.30 457.33,333.25 458.79,333.20 460.24,333.15 461.66,333.10 463.08,333.05 464.50,333.00 465.92,332.95 467.33,332.91 468.74,332.86 470.16,332.82 471.57,332.78 472.98,332.74 474.39,332.71 475.80,332.68 477.20,332.64 478.61,332.62 480.01,332.59 481.41,332.57 482.81,332.54 484.21,332.53 485.60,332.51 487.00,332.50" stroke="#785EF0"/>
<polyline points="53.60,544.00 55.07,543.85 56.51,543.68 57.95,543.50 59.39,543.33 60.84,543.16 62.29,542.99 63.73,542.82 65.18,542.65 66.63,542.48 68.09,542.31 69.54,542.15 70.99,541.98 72.45,541.82 73.91,541.66 75.37,541.50 76.83,541.33 78.29,541.17 79.75,541.01 81.21,540.85 82.67,540.69 84.13,540.53 85.60,540.37 87.06,540.21 88.53,540.05 89.99,539.89 91.46,539.73 92.93,539.57 94.40,539.41 95.87,539.25 97.34,539.09 98.81,538.93 100.28,538.76 101.75,538.60 103.22,538.44 104.69,538.27 106.16,538.11 107.64,537.94 109.13,537.77 110.62,537.60 112.11,537.42 113.60,537.25 115.09,537.07 116.59,536.89 118.08,536.71 119.57,536.53 121.06,536.35 122.55,536.17 124.05,535.98 125.54,535.79 127.03,535.60 128.52,535.41 130.01,535.21 131.45,535.02 132.89,534.83 134.33,534.63 135.77,534.44 137.20,534.24 138.64,534.03 140.08,533.83 141.52,533.62 142.95,533.41 144.39,533.20 145.82,532.98 147.25,532.76 148.68,532.54 150.11,532.31 151.57,532.08 153.04,531.84 154.51,531.60 155.98,531.35 157.44,531.10 158.91,530.85 160.37,530.59 161.84,530.33 163.23,530.08 164.62,529.82 166.01,529.56 167.40,529.30 168.79,529.03 170.18,528.76 171.56,528.48 172.95,528.20 174.33,527.92 175.66,527.64 176.99,527.36 178.33,527.07 179.66,526.78 180.98,526.48 182.31,526.18 183.63,525.88 184.96,525.57 186.28,525.25 187.61,524.93 188.94,524.60 190.26,524.27 191.59,523.94 192.91,523.59 194.23,523.24 195.55,522.89 196.86,522.53 198.18,522.17 199.49,521.80 200.79,521.42 202.10,521.04 203.40,520.66 204.70,520.26 206.00,519.86 207.29,519.46 208.59,519.05 209.87,518.63 211.10,518.23 212.32,517.82 213.55,517.40 214.77,516.98 215.98,516.55 217.15,516.14 218.32,515.71 219.49,515.28 220.65,514.85 221.82,514.41 223.01,513.95 224.20,513.48 225.39,513.00 226.58,512.52 227.76,512.03 228.95,511.54 230.13,511.04 231.30,510.53 232.48,510.01 233.65,509.49 234.85,508.95 236.04,508.40 237.23,507.84 238.42,507.27 239.61,506.70 240.80,506.12 241.98,505.53 243.16,504.93 244.33,504.32 245.50,503.71 246.72,503.06 247.94,502.40 249.15,501.73 250.36,501.05 251.56,500.37 252.83,499.63 254.10,498.88 255.37,498.12 256.64,497.35 257.90,496.56 259.15,495.77 260.41,494.96 261.66,494.14 262.85,493.29 264.00,492.40 264.97,491.58 265.91,490.71 266.80,489.80 267.67,488.85 268.50,487.85 269.20,486.80 269.70,485.78 270.12,484.70 270.50,483.60 270.87,482.26 271.20,480.90 271.60,479.60 272.15,478.46 272.84,477.37 273.62,476.31 274.42,475.26 275.20,474.20 275.99,473.09 276.79,471.99 277.59,470.90 278.41,469.81 279.14,468.65 279.87,467.48 280.56,466.38 281.24,465.27 281.91,464.15 282.51,463.16 283.10,462.17 283.69,461.18 284.28,460.19 284.95,459.03 285.63,457.87 286.30,456.70 286.97,455.54 287.64,454.37 288.30,453.21 289.03,451.94 289.75,450.67 290.48,449.40 291.20,448.13 291.92,446.86 292.60,445.67 293.28,444.49 293.96,443.30 294.65,442.12 295.34,440.94 296.03,439.76 296.74,438.56 297.45,437.36 298.17,436.16 298.89,434.96 299.62,433.77 300.35,432.59 301.09,431.39 301.84,430.20 302.60,429.01 303.36,427.82 304.13,426.64 304.91,425.46 305.69,424.29 306.48,423.13 307.25,422.01 308.03,420.90 308.81,419.79 309.60,418.69 310.43,417.55 311.27,416.41 312.13,415.27 312.99,414.15 313.86,413.03 314.74,411.92 315.63,410.81 316.53,409.72 317.43,408.63 318.35,407.55 319.28,406.48 320.21,405.41 321.15,404.36 322.07,403.35 322.99,402.35 323.92,401.35 324.86,400.37 325.80,399.39 326.77,398.40 327.75,397.42 328.74,396.44 329.74,395.48 330.74,394.52 331.75,393.57 332.77,392.63 333.79,391.70 334.83,390.78 335.93,389.81 337.04,388.85 338.16,387.91 339.28,386.97 340.42,386.04 341.56,385.13 342.66,384.27 343.76,383.41 344.88,382.56 346.00,381.73 347.13,380.90 348.27,380.09 349.46,379.24 350.66,378.41 351.87,377.59 353.09,376.79 354.31,375.99 355.43,375.28 356.56,374.58 357.69,373.89 358.82,373.21 359.97,372.53 361.12,371.87 362.27,371.22 363.45,370.57 364.64,369.93 365.83,369.29 367.03,368.67 368.23,368.06 369.48,367.44 370.73,366.83 372.00,366.23 373.27,365.64 374.54,365.05 375.83,364.48 377.11,363.92 378.40,363.37 379.64,362.86 380.88,362.35 382.12,361.85 383.37,361.36 384.63,360.88 385.88,360.41 387.19,359.93 388.50,359.46 389.81,359.00 391.13,358.55 392.45,358.11 393.78,357.67 395.11,357.24 396.44,356.83 397.78,356.42 399.10,356.02 400.42,355.63 401.75,355.25 403.08,354.88 404.42,354.51 405.75,354.16 407.09,353.81 408.43,353.46 409.78,353.13 411.20,352.78 412.63,352.44 414.06,352.10 415.50,351.78 416.94,351.46 418.38,351.15 419.82,350.84 421.20,350.56 422.59,350.28 423.98,350.00 425.38,349.74 426.77,349.48 428.16,349.22 429.56,348.97 430.96,348.73 432.36,348.49 433.84,348.24 435.32,348.00 436.80,347.76 438.29,347.53 439.78,347.31 441.26,347.09 442.75,346.88 444.24,346.67 445.72,346.46 447.21,346.27 448.69,346.07 450.18,345.88 451.61,345.70 453.05,345.53 454.48,345.36 455.92,345.19 457.35,345.03 458.78,344.86 460.22,344.71 461.65,344.55 463.08,344.40 464.51,344.25 465.94,344.11 467.37,343.97 468.80,343.83 470.22,343.69 471.63,343.55 473.03,343.42 474.44,343.29 475.84,343.17 477.25,343.04 478.64,342.92 480.04,342.79 481.44,342.67 482.83,342.55 484.22,342.43 485.61,342.32 487.00,342.20" stroke="#648FFF"/>
<polyline points="53.60,555.30 55.08,555.30 56.55,555.30 58.03,555.30 59.50,555.30 60.98,555.30 62.45,555.29 63.93,555.29 65.41,555.29 66.88,555.28 68.36,555.28 69.83,555.28 71.31,555.27 72.78,555.27 74.26,555.26 75.73,555.26 77.21,555.25 78.69,555.25 80.16,555.24 81.64,555.23 83.11,555.23 84.59,555.22 86.06,555.21 87.54,555.21 89.01,555.20 90.49,555.19 91.97,555.18 93.44,555.18 94.92,555.17 96.39,555.16 97.87,555.15 99.34,555.14 100.82,555.13 102.29,555.12 103.77,555.11 105.25,555.10 106.72,555.09 108.20,555.08 109.67,555.07 111.15,555.06 112.62,555.05 114.10,555.04 115.57,555.03 117.05,555.02 118.52,555.01 120.00,555.00 121.48,554.99 122.96,554.98 124.44,554.96 125.93,554.95 127.41,554.93 128.89,554.91 130.37,554.89 131.85,554.87 133.33,554.85 134.82,554.83 136.30,554.81 137.78,554.79 139.26,554.76 140.74,554.74 142.22,554.71 143.70,554.69 145.19,554.66 146.67,554.64 148.15,554.61 149.63,554.58 151.11,554.56 152.59,554.53 154.07,554.50 155.56,554.48 157.04,554.45 158.52,554.43 160.00,554.40 161.48,554.37 162.96,554.35 164.44,554.32 165.93,554.30 167.41,554.27 168.89,554.24 170.37,554.21 171.85,554.19 173.33,554.16 174.82,554.13 176.30,554.10 177.78,554.07 179.26,554.04 180.74,554.01 182.22,553.98 183.70,553.95 185.19,553.92 186.67,553.89 188.15,553.86 189.63,553.83 191.11,553.80 192.59,553.77 194.07,553.73 195.56,553.70 197.04,553.67 198.52,553.63 200.00,553.60 201.43,553.57 202.86,553.53 204.29,553.49 205.71,553.45 207.14,553.41 208.57,553.36 210.00,553.32 211.43,553.27 212.86,553.23 214.29,553.18 215.71,553.14 217.14,553.10 218.57,553.05 220.00,553.01 221.43,552.97 222.86,552.94 224.29,552.90 225.71,552.87 227.14,552.84 228.57,552.82 230.00,552.80 231.44,552.78 232.88,552.77 234.32,552.75 235.76,552.74 237.20,552.73 238.64,552.72 240.08,552.71 241.52,552.70 242.96,552.70 244.40,552.69 245.84,552.68 247.28,552.68 248.72,552.67 250.16,552.66 251.61,552.66 253.05,552.65 254.49,552.64 255.93,552.63 257.37,552.62 258.80,552.60 260.24,552.59 261.68,552.57 263.12,552.55 264.56,552.53 266.00,552.50 267.24,552.47 268.49,552.41 269.40,552.30 269.79,551.80 270.00,551.00 270.04,549.79 270.06,548.53 270.07,547.26 270.10,546.00 270.17,544.80 270.30,543.60 270.42,542.99 270.60,542.40 270.86,541.78 271.20,541.20 271.84,540.40 272.60,539.67 273.40,539.00 274.54,538.15 275.75,537.37 277.00,536.69 278.20,536.30 279.42,535.91 280.66,535.53 281.89,535.15 283.12,534.77 284.31,534.42 285.51,534.07 286.71,533.73 287.91,533.39 289.11,533.06 290.31,532.73 291.51,532.41 292.71,532.10 293.91,531.79 295.11,531.48 296.31,531.19 297.51,530.89 298.71,530.60 299.91,530.32 301.11,530.04 302.30,529.77 303.50,529.50 304.69,529.24 305.89,528.97 307.08,528.72 308.27,528.47 309.46,528.22 310.64,527.98 311.83,527.74 313.02,527.50 314.21,527.27 315.39,527.04 316.58,526.81 317.76,526.59 318.95,526.37 320.14,526.15 321.32,525.93 322.51,525.72 323.70,525.51 324.89,525.30 326.25,525.06 327.62,524.83 328.99,524.60 330.35,524.37 331.72,524.14 333.09,523.92 334.46,523.70 335.83,523.47 337.20,523.26 338.57,523.04 339.94,522.82 341.37,522.60 342.80,522.37 344.23,522.15 345.66,521.93 347.10,521.71 348.53,521.49 349.96,521.27 351.39,521.05 352.82,520.82 354.26,520.60 355.69,520.38 357.12,520.16 358.55,519.94 359.99,519.72 361.42,519.50 362.85,519.28 364.28,519.06 365.71,518.84 367.14,518.62 368.57,518.39 370.00,518.17 371.43,517.95 372.86,517.72 374.29,517.49 375.72,517.27 377.15,517.04 378.58,516.81 380.00,516.58 381.43,516.35 382.86,516.11 384.29,515.88 385.72,515.64 387.14,515.40 388.57,515.16 390.00,514.92 391.44,514.67 392.88,514.42 394.32,514.17 395.76,513.92 397.21,513.66 398.65,513.40 400.09,513.14 401.52,512.88 402.96,512.61 404.39,512.35 405.83,512.07 407.26,511.80 408.69,511.53 410.13,511.25 411.55,510.97 412.97,510.68 414.39,510.40 415.81,510.10 417.23,509.81 418.65,509.51 420.06,509.21 421.49,508.91 422.91,508.60 424.33,508.29 425.75,507.97 427.17,507.65 428.59,507.34 430.00,507.00 431.22,506.67 432.43,506.29 433.63,505.89 434.82,505.45 436.00,505.00 437.19,504.51 438.38,503.98 439.56,503.42 440.72,502.83 441.87,502.22 443.00,501.60 444.19,500.88 445.35,500.11 446.50,499.31 447.65,498.50 448.81,497.72 450.00,497.00 451.30,496.28 452.62,495.60 453.96,494.94 455.31,494.30 456.66,493.65 458.00,493.00 459.29,492.37 460.58,491.76 461.88,491.15 463.17,490.53 464.46,489.91 465.74,489.27 467.00,488.60 468.18,487.94 469.35,487.24 470.51,486.53 471.67,485.81 472.83,485.10 474.00,484.40 475.19,483.71 476.39,483.03 477.60,482.35 478.80,481.68 480.00,481.00 481.17,480.34 482.33,479.67 483.50,479.00 484.67,478.34 485.83,477.67 487.00,477.00" stroke="#000000"/>
</g>
<text x="53.70" y="576.40" font-size="16.1" fill="#262626" text-anchor="middle">-20</text>
<line x1="107.85" y1="555.4" x2="107.85" y2="551.0" stroke="#262626" stroke-width="1.15"/>
<line x1="107.85" y1="327.5" x2="107.85" y2="331.9" stroke="#262626" stroke-width="1.15"/>
<text x="107.85" y="576.40" font-size="16.1" fill="#262626" text-anchor="middle">-15</text>
<line x1="162.00" y1="555.4" x2="162.00" y2="551.0" stroke="#262626" stroke-width="1.15"/>
<line x1="162.00" y1="327.5" x2="162.00" y2="331.9" stroke="#262626" stroke-width="1.15"/>
<text x="162.00" y="576.40" font-size="16.1" fill="#262626" text-anchor="middle">-10</text>
<line x1="216.15" y1="555.4" x2="216.15" y2="551.0" stroke="#262626" stroke-width="1.15"/>
<line x1="216.15" y1="327.5" x2="216.15" y2="331.9" stroke="#262626" stroke-width="1.15"/>
<text x="216.15" y="576.40" font-size="16.1" fill="#262626" text-anchor="middle">-5</text>
<line x1="270.30" y1="555.4" x2="270.30" y2="551.0" stroke="#262626" stroke-width="1.15"/>
<line x1="270.30" y1="327.5" x2="270.30" y2="331.9" stroke="#262626" stroke-width="1.15"/>
<text x="270.30" y="576.40" font-size="16.1" fill="#262626" text-anchor="middle">0</text>
<line x1="324.45" y1="555.4" x2="324.45" y2="551.0" stroke="#262626" stroke-width="1.15"/>
<line x1="324.45" y1="327.5" x2="324.45" y2="331.9" stroke="#262626" stroke-width="1.15"/>
<text x="324.45" y="576.40" font-size="16.1" fill="#262626" text-anchor="middle">5</text>
<line x1="378.60" y1="555.4" x2="378.60" y2="551.0" stroke="#262626" stroke-width="1.15"/>
<line x1="378.60" y1="327.5" x2="378.60" y2="331.9" stroke="#262626" stroke-width="1.15"/>
<text x="378.60" y="576.40" font-size="16.1" fill="#262626" text-anchor="middle">10</text>
<line x1="432.75" y1="555.4" x2="432.75" y2="551.0" stroke="#262626" stroke-width="1.15"/>
<line x1="432.75" y1="327.5" x2="432.75" y2="331.9" stroke="#262626" stroke-width="1.15"/>
<text x="432.75" y="576.40" font-size="16.1" fill="#262626" text-anchor="middle">15</text>
<text x="486.90" y="576.40" font-size="16.1" fill="#262626" text-anchor="middle">20</text>
<text x="47.10" y="561.20" font-size="16.1" fill="#262626" text-anchor="end">0</text>
<line x1="53.7" y1="509.82" x2="58.1" y2="509.82" stroke="#262626" stroke-width="1.15"/>
<line x1="486.9" y1="509.82" x2="482.5" y2="509.82" stroke="#262626" stroke-width="1.15"/>
<text x="47.10" y="515.62" font-size="16.1" fill="#262626" text-anchor="end">0.2</text>
<line x1="53.7" y1="464.24" x2="58.1" y2="464.24" stroke="#262626" stroke-width="1.15"/>
<line x1="486.9" y1="464.24" x2="482.5" y2="464.24" stroke="#262626" stroke-width="1.15"/>
<text x="47.10" y="470.04" font-size="16.1" fill="#262626" text-anchor="end">0.4</text>
<line x1="53.7" y1="418.66" x2="58.1" y2="418.66" stroke="#262626" stroke-width="1.15"/>
<line x1="486.9" y1="418.66" x2="482.5" y2="418.66" stroke="#262626" stroke-width="1.15"/>
<text x="47.10" y="424.46" font-size="16.1" fill="#262626" text-anchor="end">0.6</text>
<line x1="53.7" y1="373.08" x2="58.1" y2="373.08" stroke="#262626" stroke-width="1.15"/>
<line x1="486.9" y1="373.08" x2="482.5" y2="373.08" stroke="#262626" stroke-width="1.15"/>
<text x="47.10" y="378.88" font-size="16.1" fill="#262626" text-anchor="end">0.8</text>
<text x="47.10" y="333.30" font-size="16.1" fill="#262626" text-anchor="end">1</text>
<rect x="53.7" y="327.5" width="433.2" height="227.89999999999998" fill="none" stroke="#262626" stroke-width="1.2"/>
<text x="270.90" y="321.10" font-size="15.85" font-weight="bold" fill="#000" text-anchor="middle">(b) t = 3000 yr</text>
<text x="270.30" y="597.30" font-size="16.1" fill="#262626" text-anchor="middle">Deviation (m)</text>
<text transform="translate(17.5,441.45) rotate(-90)" font-size="16.1" fill="#262626" text-anchor="middle">Empirical CDF</text>
<rect x="63.6" y="337.7" width="113.9" height="123.10000000000002" fill="#fff" stroke="#262626" stroke-width="1.2"/>
<line x1="67.4" y1="349.40" x2="107.6" y2="349.40" stroke="#FFB000" stroke-width="1.3"/>
<text x="110.2" y="355.40" font-size="16.1" fill="#000">f = 0.5</text>
<line x1="67.4" y1="369.36" x2="107.6" y2="369.36" stroke="#FE6100" stroke-width="1.3"/>
<text x="110.2" y="375.36" font-size="16.1" fill="#000">f = 1</text>
<line x1="67.4" y1="389.32" x2="107.6" y2="389.32" stroke="#DC267F" stroke-width="1.3"/>
<text x="110.2" y="395.32" font-size="16.1" fill="#000">f = 2</text>
<line x1="67.4" y1="409.28" x2="107.6" y2="409.28" stroke="#785EF0" stroke-width="1.3"/>
<text x="110.2" y="415.28" font-size="16.1" fill="#000">f = 4</text>
<line x1="67.4" y1="429.24" x2="107.6" y2="429.24" stroke="#648FFF" stroke-width="1.3"/>
<text x="110.2" y="435.24" font-size="16.1" fill="#000">f = 8</text>
<line x1="67.4" y1="449.20" x2="107.6" y2="449.20" stroke="#000000" stroke-width="1.3"/>
<text x="110.2" y="455.20" font-size="16.1" fill="#000">f = 0.125</text>
</svg>
</body></html>
